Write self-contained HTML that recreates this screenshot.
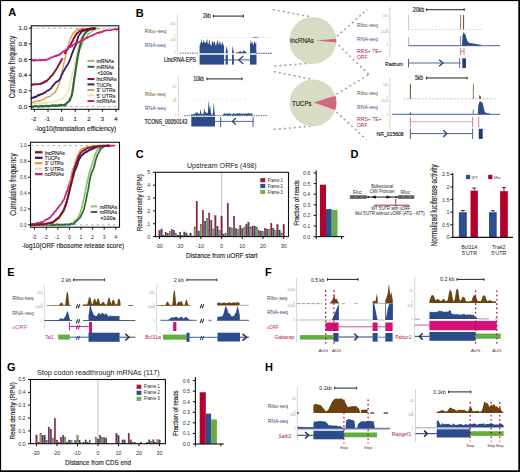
<!DOCTYPE html>
<html><head><meta charset="utf-8"><style>
html,body{margin:0;padding:0;background:#fff;}
body{width:520px;height:472px;overflow:hidden;}
svg{display:block;font-family:"Liberation Sans", sans-serif;}

</style></head><body>
<svg width="520" height="472" viewBox="0 0 520 472">
<defs><pattern id="hatch" width="1.2" height="1.2" patternUnits="userSpaceOnUse"><rect width="0.6" height="1.2" fill="#777"/></pattern></defs>
<rect x="0" y="0" width="520" height="472" fill="#fff"/>
<text x="8.30" y="16.08" font-size="11.0" font-weight="bold" fill="#000">A</text>
<line x1="31.20" y1="28.20" x2="118.80" y2="28.20" stroke="#aaa" stroke-width="0.9" stroke-dasharray="2.5,3"/>
<line x1="31.20" y1="106.50" x2="118.80" y2="106.50" stroke="#aaa" stroke-width="0.9" stroke-dasharray="2.5,3"/>
<polyline points="31.00,103.82 31.70,103.60 32.40,104.04 33.10,103.41 33.80,103.82 34.50,103.60 35.20,103.24 35.90,103.63 36.60,103.11 37.30,103.45 38.00,103.04 38.70,103.00 39.40,103.28 40.10,103.63 40.80,102.88 41.50,102.92 42.20,103.27 42.90,103.54 43.60,103.12 44.30,102.88 45.00,103.41 45.70,102.43 46.40,103.19 47.10,102.56 47.80,102.36 48.50,102.28 49.20,102.42 49.90,102.88 50.60,102.19 51.30,102.53 52.00,102.54 52.73,102.01 53.47,101.93 54.20,101.18 54.93,100.92 55.67,100.81 56.40,101.02 57.13,100.51 57.87,100.13 58.60,100.15 59.33,99.75 60.07,99.34 60.80,99.57 61.53,99.22 62.27,98.50 63.00,98.57 63.79,97.43 64.57,96.68 65.36,95.43 66.14,93.89 66.93,93.48 67.71,91.52 68.50,90.72 69.33,87.48 70.15,83.30 70.97,80.06 71.80,76.04 72.53,73.37 73.27,70.16 74.00,66.67 74.83,62.71 75.67,57.88 76.50,54.00 77.50,49.49 78.50,45.08 79.40,41.91 80.30,39.24 81.20,37.54 82.10,35.27 83.00,33.66 83.72,32.31 84.45,32.20 85.18,31.40 85.90,30.99 86.66,30.63 87.43,29.91 88.19,29.82 88.95,29.92 89.71,29.09 90.47,29.34 91.24,28.86 92.00,28.62 92.73,28.50 93.45,29.16 94.18,28.47 94.91,28.53 95.64,28.62 96.36,29.04 97.09,28.20 97.82,28.51 98.55,28.56 99.27,28.84 100.00,28.72" fill="none" stroke="#f2dcae" stroke-width="1.3" stroke-linejoin="round" />
<polyline points="31.00,106.66 31.71,106.05 32.42,106.17 33.13,106.09 33.84,106.59 34.56,106.64 35.27,105.80 35.98,105.81 36.69,105.84 37.40,105.81 38.11,106.04 38.82,106.12 39.53,105.77 40.24,105.49 40.96,105.88 41.67,105.80 42.38,105.98 43.09,106.34 43.80,106.05 44.51,105.85 45.22,105.93 45.93,105.96 46.64,105.32 47.36,106.14 48.07,105.99 48.78,106.06 49.49,105.96 50.20,105.53 50.91,105.51 51.62,105.19 52.33,105.70 53.04,105.10 53.76,105.09 54.47,105.20 55.18,105.13 55.89,105.28 56.60,104.97 57.31,104.90 58.02,105.02 58.73,104.95 59.44,105.19 60.16,104.82 60.87,105.65 61.58,105.36 62.29,104.87 63.00,104.95 63.79,104.59 64.57,104.15 65.36,103.45 66.14,103.72 66.93,103.41 67.71,102.42 68.50,101.98 69.25,99.84 70.00,98.10 70.75,96.59 71.50,94.76 72.40,89.83 73.30,83.66 74.25,76.52 75.20,70.45 76.20,64.03 77.20,57.65 78.25,54.04 79.30,49.53 80.20,48.03 81.10,46.48 82.00,44.36 82.75,42.82 83.50,41.01 84.25,39.74 85.00,38.17 85.70,37.87 86.40,36.73 87.10,36.08 87.80,34.73 88.50,33.72 89.20,33.71 89.90,33.28 90.60,32.55 91.30,31.91 92.00,31.32 92.80,30.84 93.60,29.93 94.40,29.82 95.20,29.26 96.00,28.53 96.80,28.41 97.60,28.54 98.40,28.40 99.20,28.71 100.00,28.86" fill="none" stroke="#8fc06a" stroke-width="1.4" stroke-linejoin="round" />
<polyline points="31.00,106.55 31.71,107.01 32.41,107.03 33.12,106.97 33.82,106.35 34.53,106.18 35.23,106.16 35.94,106.10 36.64,106.08 37.35,106.47 38.06,106.72 38.76,106.63 39.47,106.25 40.17,106.39 40.88,106.51 41.58,105.77 42.29,106.32 42.99,106.54 43.70,106.38 44.41,106.32 45.11,106.02 45.82,105.70 46.52,106.28 47.23,105.79 47.93,106.23 48.64,106.38 49.34,105.77 50.05,105.75 50.76,106.27 51.46,106.02 52.17,105.44 52.87,105.37 53.58,105.36 54.28,106.09 54.99,105.96 55.69,105.27 56.40,105.93 57.13,106.01 57.87,105.62 58.60,105.25 59.33,105.38 60.07,104.90 60.80,104.71 61.53,105.60 62.27,105.22 63.00,105.03 63.73,105.37 64.47,104.80 65.20,105.17 65.93,104.44 66.67,103.14 67.40,102.50 68.13,101.86 68.87,101.12 69.60,100.79 70.40,98.56 71.20,96.82 72.00,94.63 72.90,89.21 73.80,82.45 74.53,77.69 75.27,72.95 76.00,68.40 77.00,61.42 78.00,55.42 79.00,50.50 80.00,46.03 81.30,41.32 82.15,38.67 83.00,36.94 83.80,35.35 84.60,33.84 85.40,33.30 86.27,31.84 87.13,31.31 88.00,30.73 88.72,30.18 89.45,29.58 90.18,29.39 90.90,29.06 91.63,29.20 92.36,28.43 93.09,28.80 93.81,28.41 94.54,28.35 95.27,28.76 96.00,28.41" fill="none" stroke="#2c6a38" stroke-width="2.1" stroke-linejoin="round" />
<polyline points="31.00,102.46 31.71,102.50 32.43,102.50 33.14,101.87 33.86,101.88 34.57,101.62 35.29,101.47 36.00,101.49 36.71,101.10 37.43,101.02 38.14,100.81 38.86,101.11 39.57,100.71 40.29,100.73 41.00,100.64 41.73,99.63 42.47,99.61 43.20,99.67 43.93,99.24 44.67,98.21 45.40,97.87 46.13,97.87 46.87,97.17 47.60,97.02 48.33,96.52 49.07,96.79 49.80,96.58 50.59,96.07 51.37,94.70 52.16,94.63 52.94,93.95 53.73,92.80 54.51,92.91 55.30,92.37 56.12,89.97 56.95,89.05 57.77,86.85 58.60,85.29 59.33,83.22 60.07,80.50 60.80,77.26 61.53,74.23 62.27,71.02 63.00,67.54 63.85,63.55 64.70,59.82 66.00,54.42 66.83,50.65 67.67,48.12 68.50,44.94 69.40,41.68 70.30,39.16 71.20,36.62 72.13,35.01 73.07,33.06 74.00,32.49 74.80,31.79 75.60,31.47 76.40,30.10 77.20,29.77 78.00,29.04 78.70,29.67 79.40,29.05 80.10,28.80 80.80,28.98 81.50,29.36 82.20,29.16 82.90,28.49 83.60,28.27 84.30,28.93 85.00,28.47" fill="none" stroke="#e39a45" stroke-width="1.4" stroke-linejoin="round" />
<polyline points="31.00,98.90 31.71,97.97 32.42,97.62 33.13,97.93 33.84,97.35 34.55,96.68 35.25,97.23 35.96,96.61 36.67,96.46 37.38,95.42 38.09,95.87 38.80,94.77 39.59,95.25 40.37,94.53 41.16,94.10 41.94,94.00 42.73,94.06 43.51,93.08 44.30,92.63 45.09,92.56 45.87,91.80 46.66,91.20 47.44,90.78 48.23,90.19 49.01,89.87 49.80,89.51 50.59,88.56 51.37,88.07 52.16,86.66 52.94,85.93 53.73,84.66 54.51,83.89 55.30,82.62 56.03,82.30 56.77,81.52 57.50,81.68 58.23,80.95 58.97,80.04 59.70,79.77 60.53,78.31 61.35,75.56 62.17,74.34 63.00,72.03 63.83,70.72 64.65,69.68 65.47,67.87 66.30,66.61 67.20,65.25 68.10,64.02 69.00,61.84 69.72,60.38 70.45,58.31 71.18,56.29 71.90,54.10 72.68,52.21 73.46,50.07 74.24,48.31 75.02,46.41 75.80,45.24 76.55,42.26 77.30,39.66 78.05,37.08 78.80,35.34 79.60,34.50 80.40,33.42 81.20,32.16 82.00,31.24 82.75,31.04 83.50,30.96 84.25,30.41 85.00,30.45 85.75,30.01 86.50,30.46 87.25,30.22 88.00,29.55 88.70,29.15 89.40,29.79 90.10,29.04 90.80,29.00 91.50,28.55 92.20,28.84 92.90,28.84 93.60,28.78 94.30,28.39 95.00,28.60" fill="none" stroke="#3b1c5c" stroke-width="1.8" stroke-linejoin="round" />
<polyline points="31.00,84.60 31.71,84.76 32.43,84.49 33.14,84.70 33.86,84.24 34.57,84.12 35.29,84.30 36.00,84.13 36.71,84.39 37.43,84.23 38.14,84.35 38.86,84.16 39.57,84.12 40.29,84.18 41.00,83.59 41.79,83.14 42.57,83.41 43.36,82.19 44.14,82.38 44.93,81.91 45.71,80.93 46.50,81.34 47.29,80.59 48.07,79.53 48.86,78.83 49.64,78.11 50.43,76.64 51.21,76.22 52.00,75.40 52.73,74.63 53.47,73.50 54.20,72.43 54.93,71.08 55.67,70.29 56.40,68.98 57.23,67.77 58.05,66.08 58.88,64.66 59.70,63.53 61.00,60.86 61.85,59.10 62.70,58.34" fill="none" stroke="#8a0f2c" stroke-width="1.9" stroke-linejoin="round" />
<polyline points="64.50,54.06 65.80,51.63 66.57,50.54 67.33,49.51 68.10,48.24 68.87,46.67 69.63,46.38 70.40,45.25 71.27,43.34 72.13,41.70 73.00,40.16 73.93,37.90 74.87,36.90 75.80,34.75 76.60,33.70 77.40,33.02 78.20,32.60 79.00,31.21 79.80,31.40 80.60,31.30 81.40,30.47 82.20,30.02 83.00,29.78 83.70,29.88 84.40,29.87 85.10,29.62 85.80,29.54 86.50,28.88 87.20,28.85 87.90,28.85 88.60,29.24 89.30,28.70 90.00,28.87 90.75,28.27 91.50,28.29 92.25,28.46 93.00,28.82 93.75,28.80 94.50,28.75 95.25,28.33 96.00,28.52" fill="none" stroke="#8a0f2c" stroke-width="1.9" stroke-linejoin="round" />
<polyline points="31.00,60.26 31.70,60.25 32.40,59.89 33.10,60.65 33.80,59.94 34.50,60.70 35.20,60.65 35.90,59.71 36.60,60.14 37.30,60.48 38.00,60.62 38.70,60.08 39.40,59.89 40.10,59.81 40.80,60.54 41.50,59.79 42.20,60.14 42.90,59.69 43.60,60.05 44.30,60.47 45.00,59.63 45.70,60.07 46.40,59.52 47.10,59.65 47.80,59.22 48.50,58.50 49.20,58.92 49.90,58.27 50.60,57.56 51.30,57.29 52.00,57.54 52.70,57.25 53.47,56.79 54.24,56.32 55.01,56.21 55.78,55.88 56.55,56.09 57.32,54.94 58.09,55.38 58.86,55.16 59.63,54.13 60.40,54.63 61.50,52.91 62.22,52.63 62.94,51.56 63.67,51.17 64.39,50.73 65.11,50.87 65.83,49.99 66.56,49.29 67.28,48.89 68.00,48.28 68.75,47.55 69.50,47.10 70.25,47.33 71.00,46.29 71.75,46.44 72.50,45.25 73.25,44.77 74.00,44.51 74.74,43.80 75.49,43.60 76.23,43.79 76.98,43.33 77.72,42.87 78.47,42.30 79.21,42.19 79.96,41.83 80.70,41.05 81.46,40.84 82.21,39.79 82.97,40.10 83.72,39.44 84.48,39.36 85.23,38.88 85.99,38.14 86.74,37.53 87.50,38.03 88.27,36.86 89.03,36.84 89.80,36.34 90.57,35.93 91.33,36.01 92.10,35.88 92.87,34.79 93.63,34.82 94.40,34.10 95.17,34.08 95.93,33.64 96.70,33.13 97.47,32.85 98.23,32.62 99.00,33.04 99.77,32.35 100.53,31.80 101.30,32.21 102.07,32.13 102.83,31.42 103.60,30.94 104.37,30.83 105.13,30.56 105.90,30.64 106.67,30.22 107.43,30.21 108.20,30.06 108.96,30.27 109.71,30.49 110.47,30.25 111.22,29.81 111.98,29.71 112.73,29.72 113.49,29.48 114.24,29.34 115.00,28.96 115.70,29.12 116.40,29.75 117.10,28.85 117.80,29.16 118.50,29.23" fill="none" stroke="#cc1f78" stroke-width="1.7" stroke-linejoin="round" />
<rect x="31.2" y="25.8" width="87.6" height="83.5" fill="none" stroke="#111" stroke-width="1.1"/>
<line x1="28.70" y1="106.50" x2="31.20" y2="106.50" stroke="#111" stroke-width="1" />
<line x1="28.70" y1="90.84" x2="31.20" y2="90.84" stroke="#111" stroke-width="1" />
<line x1="28.70" y1="75.18" x2="31.20" y2="75.18" stroke="#111" stroke-width="1" />
<line x1="28.70" y1="59.52" x2="31.20" y2="59.52" stroke="#111" stroke-width="1" />
<line x1="28.70" y1="43.86" x2="31.20" y2="43.86" stroke="#111" stroke-width="1" />
<line x1="28.70" y1="28.20" x2="31.20" y2="28.20" stroke="#111" stroke-width="1" />
<line x1="34.40" y1="109.30" x2="34.40" y2="111.80" stroke="#111" stroke-width="1" />
<line x1="48.00" y1="109.30" x2="48.00" y2="111.80" stroke="#111" stroke-width="1" />
<line x1="61.60" y1="109.30" x2="61.60" y2="111.80" stroke="#111" stroke-width="1" />
<line x1="75.20" y1="109.30" x2="75.20" y2="111.80" stroke="#111" stroke-width="1" />
<line x1="88.80" y1="109.30" x2="88.80" y2="111.80" stroke="#111" stroke-width="1" />
<line x1="102.40" y1="109.30" x2="102.40" y2="111.80" stroke="#111" stroke-width="1" />
<line x1="116.00" y1="109.30" x2="116.00" y2="111.80" stroke="#111" stroke-width="1" />
<text x="27.20" y="108.66" font-size="6.0" fill="#333" text-anchor="end" font-weight="normal" textLength="8.60" lengthAdjust="spacingAndGlyphs" stroke="#333" stroke-width="0.15">0.0</text>
<text x="27.20" y="93.00" font-size="6.0" fill="#333" text-anchor="end" font-weight="normal" textLength="8.60" lengthAdjust="spacingAndGlyphs" stroke="#333" stroke-width="0.15">0.2</text>
<text x="27.20" y="77.34" font-size="6.0" fill="#333" text-anchor="end" font-weight="normal" textLength="8.60" lengthAdjust="spacingAndGlyphs" stroke="#333" stroke-width="0.15">0.4</text>
<text x="27.20" y="61.68" font-size="6.0" fill="#333" text-anchor="end" font-weight="normal" textLength="8.60" lengthAdjust="spacingAndGlyphs" stroke="#333" stroke-width="0.15">0.6</text>
<text x="27.20" y="46.02" font-size="6.0" fill="#333" text-anchor="end" font-weight="normal" textLength="8.60" lengthAdjust="spacingAndGlyphs" stroke="#333" stroke-width="0.15">0.8</text>
<text x="27.20" y="30.36" font-size="6.0" fill="#333" text-anchor="end" font-weight="normal" textLength="8.60" lengthAdjust="spacingAndGlyphs" stroke="#333" stroke-width="0.15">1.0</text>
<text x="33.60" y="121.16" font-size="6.0" fill="#333" text-anchor="middle" font-weight="normal" stroke="#333" stroke-width="0.15">-2</text>
<text x="47.20" y="121.16" font-size="6.0" fill="#333" text-anchor="middle" font-weight="normal" stroke="#333" stroke-width="0.15">-1</text>
<text x="61.60" y="121.16" font-size="6.0" fill="#333" text-anchor="middle" font-weight="normal" stroke="#333" stroke-width="0.15">0</text>
<text x="75.20" y="121.16" font-size="6.0" fill="#333" text-anchor="middle" font-weight="normal" stroke="#333" stroke-width="0.15">1</text>
<text x="88.80" y="121.16" font-size="6.0" fill="#333" text-anchor="middle" font-weight="normal" stroke="#333" stroke-width="0.15">2</text>
<text x="102.40" y="121.16" font-size="6.0" fill="#333" text-anchor="middle" font-weight="normal" stroke="#333" stroke-width="0.15">3</text>
<text x="116.00" y="121.16" font-size="6.0" fill="#333" text-anchor="middle" font-weight="normal" stroke="#333" stroke-width="0.15">4</text>
<text transform="translate(12.50,67.10) rotate(-90)" x="0" y="2.95" font-size="8.2" fill="#333" text-anchor="middle" font-weight="normal" textLength="62.50" lengthAdjust="spacingAndGlyphs" stroke="#333" stroke-width="0.15">Cumulative frequency</text>
<text x="34.80" y="131.14" font-size="7.9" fill="#222" text-anchor="start" font-weight="normal" textLength="81.50" lengthAdjust="spacingAndGlyphs" stroke="#222" stroke-width="0.15">-log10(translation efficiency)</text>
<line x1="87.50" y1="60.90" x2="94.40" y2="60.90" stroke="#8fc06a" stroke-width="2.0" />
<text x="96.60" y="63.10" font-size="6.1" fill="#222" text-anchor="start" font-weight="normal" textLength="17.50" lengthAdjust="spacingAndGlyphs" stroke="#222" stroke-width="0.15">mRNAs</text>
<line x1="87.50" y1="66.80" x2="94.40" y2="66.80" stroke="#2c6a38" stroke-width="2.0" />
<text x="96.60" y="69.00" font-size="6.1" fill="#222" text-anchor="start" font-weight="normal" textLength="17.50" lengthAdjust="spacingAndGlyphs" stroke="#222" stroke-width="0.15">mRNAs</text>
<text x="97.20" y="75.00" font-size="6.1" fill="#222" text-anchor="start" font-weight="normal" textLength="15.00" lengthAdjust="spacingAndGlyphs" stroke="#222" stroke-width="0.15">&lt;100a</text>
<line x1="87.50" y1="79.00" x2="94.40" y2="79.00" stroke="#8a0f2c" stroke-width="2.0" />
<text x="96.60" y="81.20" font-size="6.1" fill="#222" text-anchor="start" font-weight="normal" textLength="20.00" lengthAdjust="spacingAndGlyphs" stroke="#222" stroke-width="0.15">lncRNAs</text>
<line x1="87.50" y1="84.40" x2="94.40" y2="84.40" stroke="#3b1c5c" stroke-width="2.0" />
<text x="96.60" y="86.60" font-size="6.1" fill="#222" text-anchor="start" font-weight="normal" textLength="15.00" lengthAdjust="spacingAndGlyphs" stroke="#222" stroke-width="0.15">TUCPs</text>
<line x1="87.50" y1="90.00" x2="94.40" y2="90.00" stroke="#e39a45" stroke-width="2.0" />
<text x="96.60" y="92.20" font-size="6.1" fill="#222" text-anchor="start" font-weight="normal" textLength="18.70" lengthAdjust="spacingAndGlyphs" stroke="#222" stroke-width="0.15">3' UTRs</text>
<line x1="87.50" y1="95.40" x2="94.40" y2="95.40" stroke="#f2dcae" stroke-width="2.0" />
<text x="96.60" y="97.60" font-size="6.1" fill="#222" text-anchor="start" font-weight="normal" textLength="18.70" lengthAdjust="spacingAndGlyphs" stroke="#222" stroke-width="0.15">5' UTRs</text>
<line x1="87.50" y1="101.00" x2="94.40" y2="101.00" stroke="#cc1f78" stroke-width="2.0" />
<text x="96.60" y="103.20" font-size="6.1" fill="#222" text-anchor="start" font-weight="normal" textLength="19.00" lengthAdjust="spacingAndGlyphs" stroke="#222" stroke-width="0.15">ncRNAs</text>
<line x1="30.50" y1="145.60" x2="119.50" y2="145.60" stroke="#aaa" stroke-width="0.9" stroke-dasharray="2.5,3"/>
<line x1="30.50" y1="224.80" x2="119.50" y2="224.80" stroke="#aaa" stroke-width="0.9" stroke-dasharray="2.5,3"/>
<polyline points="31.00,225.15 31.71,224.69 32.42,224.73 33.12,224.71 33.83,224.80 34.54,224.83 35.25,225.18 35.96,225.10 36.67,225.11 37.38,224.51 38.08,224.51 38.79,224.98 39.50,225.10 40.21,224.80 40.92,224.87 41.62,224.46 42.33,224.72 43.04,225.09 43.75,225.02 44.46,225.03 45.17,225.11 45.88,224.59 46.58,224.49 47.29,224.51 48.00,224.77 48.71,224.87 49.42,225.05 50.12,224.89 50.83,224.83 51.54,224.90 52.25,224.68 52.96,224.74 53.67,224.38 54.38,224.89 55.08,224.50 55.79,224.98 56.50,224.78 57.21,224.53 57.92,224.40 58.62,224.48 59.33,224.75 60.04,224.78 60.75,224.37 61.46,224.33 62.17,224.64 62.88,224.68 63.58,224.53 64.29,224.41 65.00,224.67 65.79,224.16 66.58,224.26 67.36,224.27 68.15,224.52 68.94,224.20 69.72,224.27 70.51,223.88 71.30,223.61 72.08,223.00 72.85,222.87 73.62,222.07 74.40,221.17 75.17,220.34 75.95,220.05 76.72,219.55 77.50,218.74 78.26,216.87 79.02,215.40 79.78,213.82 80.54,211.57 81.30,209.67 82.13,206.15 82.97,202.48 83.80,198.93 84.63,194.42 85.47,190.67 86.30,186.47 87.00,183.15 87.70,179.79 88.60,176.33 89.50,171.87 90.30,170.22 91.10,167.81 92.05,164.31 93.00,161.18 93.80,158.26 94.60,156.12 95.55,153.65 96.50,151.28 97.25,150.06 98.00,148.94 98.70,148.58 99.40,148.23 100.10,147.13 100.80,146.77 101.50,146.10 102.25,146.52 103.00,145.82 103.75,145.64 104.50,145.53 105.25,145.64 106.00,145.88" fill="none" stroke="#8fc06a" stroke-width="1.7" stroke-linejoin="round" />
<polyline points="31.00,225.27 31.71,225.16 32.41,225.34 33.12,225.28 33.82,224.86 34.53,224.75 35.24,225.27 35.94,225.13 36.65,224.63 37.35,225.06 38.06,224.86 38.76,224.85 39.47,224.81 40.18,224.69 40.88,224.57 41.59,224.76 42.29,224.80 43.00,225.22 43.71,224.63 44.41,225.21 45.12,224.68 45.82,224.78 46.53,225.10 47.24,225.09 47.94,224.81 48.65,224.54 49.35,224.83 50.06,224.75 50.76,225.13 51.47,224.61 52.18,224.73 52.88,225.10 53.59,224.48 54.29,224.74 55.00,225.02 55.71,224.98 56.41,224.47 57.12,224.46 57.82,224.47 58.53,225.06 59.24,224.59 59.94,224.93 60.65,225.03 61.35,224.63 62.06,224.58 62.76,225.06 63.47,224.81 64.18,224.56 64.88,224.87 65.59,224.58 66.29,224.55 67.00,224.35 67.76,224.78 68.51,224.79 69.27,224.49 70.02,224.61 70.78,223.87 71.53,223.91 72.29,223.98 73.04,224.22 73.80,224.12 74.58,222.93 75.35,222.05 76.12,221.39 76.90,220.65 77.67,220.16 78.45,218.85 79.22,218.50 80.00,217.67 80.76,216.23 81.52,214.69 82.28,213.08 83.04,211.38 83.80,209.87 84.63,206.17 85.47,202.73 86.30,198.51 87.13,194.42 87.97,190.64 88.80,186.12 89.80,179.70 90.65,176.17 91.50,173.04 92.23,171.21 92.97,170.00 93.70,168.27 94.60,164.84 95.50,160.84 96.35,158.11 97.20,155.52 98.10,153.90 99.00,152.15 99.85,150.46 100.70,148.81 101.55,148.27 102.40,147.73 103.25,147.10 104.10,146.47 104.84,146.46 105.57,146.24 106.31,145.77 107.05,146.19 107.79,145.72 108.53,145.82 109.26,145.60 110.00,145.77" fill="none" stroke="#2c6a38" stroke-width="1.7" stroke-linejoin="round" />
<polyline points="31.00,224.39 31.72,224.25 32.44,224.08 33.16,223.85 33.88,224.19 34.59,223.81 35.31,223.47 36.03,223.35 36.75,223.59 37.47,223.09 38.19,222.72 38.91,222.96 39.62,222.68 40.34,222.75 41.06,221.96 41.78,222.05 42.50,222.12 43.25,221.70 44.00,221.31 44.75,220.26 45.50,220.00 46.25,219.43 47.00,219.04 47.75,219.15 48.50,218.44 49.25,218.24 50.00,217.41 50.75,216.89 51.50,215.72 52.25,214.72 53.00,214.21 53.75,213.46 54.50,212.00 55.25,211.48 56.00,210.62 56.75,209.47 57.50,208.71 58.29,207.45 59.08,206.39 59.86,205.33 60.65,204.47 61.44,203.41 62.22,201.99 63.01,200.76 63.80,199.88 64.54,198.12 65.28,195.78 66.02,193.87 66.76,191.79 67.50,190.21 68.28,187.53 69.05,184.69 69.82,182.22 70.60,179.93 71.55,176.04 72.50,172.10 73.33,169.38 74.17,167.10 75.00,165.14 75.75,163.44 76.50,161.85 77.25,160.37 78.00,159.32 78.70,158.07 79.40,157.45 80.10,156.50 80.80,155.74 81.50,155.25 82.25,154.76 83.00,153.74 83.75,153.04 84.50,152.83 85.25,151.88 86.00,151.15 86.75,151.41 87.50,150.70 88.25,150.60 89.00,149.93 89.75,149.89 90.50,149.22 91.25,148.64 92.00,148.16 92.75,148.30 93.50,148.12 94.25,148.07 95.00,147.26 95.75,147.40 96.50,146.98 97.25,146.84 98.00,146.35 98.70,146.37 99.40,146.45 100.10,146.66 100.80,146.01 101.50,146.19 102.20,146.33 102.90,146.37 103.60,145.75 104.30,145.62 105.00,146.11 105.71,146.11 106.43,145.75 107.14,145.42 107.86,146.01 108.57,145.61 109.29,145.95 110.00,145.73 110.71,145.86 111.43,145.37 112.14,145.79 112.86,145.37 113.57,145.48 114.29,145.76 115.00,145.73" fill="none" stroke="#cc1f78" stroke-width="1.7" stroke-linejoin="round" />
<polyline points="31.60,224.58 32.30,224.58 33.00,224.69 33.70,224.75 34.40,224.64 35.10,224.44 35.80,224.50 36.50,224.82 37.20,224.92 37.90,224.30 38.60,224.64 39.30,224.76 40.00,224.24 40.70,224.78 41.40,224.25 42.10,224.57 42.80,224.52 43.50,224.55 44.20,224.30 44.90,224.36 45.60,224.46 46.33,224.20 47.05,224.22 47.78,223.93 48.51,223.78 49.24,223.34 49.96,223.61 50.69,223.37 51.42,223.05 52.15,223.28 52.87,223.14 53.60,222.77 54.35,221.98 55.10,221.58 55.85,220.72 56.60,220.14 57.35,219.75 58.10,218.91 58.85,218.56 59.60,218.01 60.31,216.61 61.03,215.95 61.74,214.49 62.46,213.88 63.17,212.84 63.89,211.58 64.60,210.19 65.42,207.75 66.25,204.91 67.07,202.57 67.90,199.25 68.63,195.92 69.37,192.18 70.10,188.16 71.20,180.22 71.90,175.79 72.60,172.34 73.50,169.99 74.40,168.32 75.25,165.29 76.10,161.77 77.00,159.55 77.90,157.00 78.60,155.02 79.30,153.84 80.00,152.74 80.70,150.94 81.40,150.08 82.14,149.27 82.89,149.28 83.63,148.44 84.37,148.32 85.11,148.24 85.86,147.37 86.60,147.03 87.32,147.10 88.03,146.86 88.75,146.55 89.47,146.54 90.18,146.42 90.90,146.86 91.62,146.57 92.33,146.61 93.05,145.99 93.77,146.32 94.48,145.74 95.20,145.92 95.94,145.97 96.69,145.76 97.43,146.10 98.17,145.85 98.91,145.85 99.66,146.04 100.40,145.47 101.14,146.07 101.89,145.80 102.63,145.61 103.37,145.87 104.11,145.48 104.86,145.96 105.60,145.65" fill="none" stroke="#f2dcae" stroke-width="1.7" stroke-linejoin="round" />
<polyline points="31.00,224.70 31.70,224.97 32.40,224.72 33.10,224.51 33.80,224.89 34.50,224.38 35.20,224.90 35.90,224.49 36.60,224.74 37.30,224.96 38.00,224.66 38.70,224.69 39.40,224.43 40.10,224.19 40.80,224.19 41.50,224.25 42.20,224.56 42.90,224.41 43.60,224.45 44.30,224.70 45.00,224.14 45.73,224.06 46.45,224.22 47.18,223.63 47.91,223.47 48.64,223.57 49.36,223.25 50.09,223.28 50.82,223.04 51.55,223.15 52.27,223.01 53.00,222.59 53.75,222.29 54.50,221.58 55.25,220.74 56.00,220.71 56.75,219.62 57.50,218.95 58.25,218.32 59.00,218.10 59.71,217.19 60.43,216.05 61.14,214.72 61.86,213.55 62.57,212.30 63.29,211.67 64.00,210.54 64.83,207.65 65.65,205.10 66.47,202.21 67.30,199.81 68.03,195.83 68.77,191.66 69.50,188.28 70.60,179.68 71.30,176.02 72.00,171.93 72.90,169.82 73.80,167.69 74.65,165.20 75.50,161.66 76.40,159.39 77.30,157.01 78.00,155.07 78.70,153.73 79.40,152.64 80.10,151.18 80.80,149.90 81.54,149.65 82.29,148.83 83.03,148.55 83.77,148.17 84.51,147.63 85.26,147.84 86.00,147.40 86.72,147.24 87.43,146.64 88.15,147.12 88.87,146.94 89.58,146.63 90.30,146.72 91.02,146.41 91.73,146.14 92.45,145.95 93.17,145.93 93.88,145.69 94.60,145.78 95.34,146.05 96.09,145.99 96.83,146.08 97.57,145.96 98.31,145.63 99.06,145.81 99.80,145.71 100.54,145.93 101.29,145.72 102.03,145.52 102.77,145.76 103.51,145.97 104.26,145.42 105.00,145.87" fill="none" stroke="#e39a45" stroke-width="1.7" stroke-linejoin="round" />
<polyline points="31.00,224.36 31.72,224.50 32.44,224.46 33.17,224.79 33.89,224.90 34.61,224.73 35.33,224.41 36.06,224.77 36.78,224.36 37.50,224.27 38.22,224.71 38.94,224.49 39.67,224.50 40.39,224.45 41.11,224.65 41.83,224.26 42.56,224.49 43.28,224.37 44.00,224.45 44.75,224.01 45.50,224.06 46.25,223.80 47.00,223.47 47.75,223.25 48.50,223.39 49.25,222.85 50.00,223.29 50.75,222.60 51.50,222.37 52.25,222.27 53.00,222.70 53.77,221.62 54.55,220.80 55.33,220.05 56.10,219.38 56.88,219.16 57.65,218.44 58.43,217.81 59.20,217.17 59.93,215.55 60.66,214.78 61.39,213.48 62.11,212.65 62.84,211.51 63.57,210.42 64.30,208.70 65.04,207.06 65.78,204.89 66.52,202.71 67.26,199.92 68.00,197.79 68.83,194.06 69.67,190.34 70.50,187.24 71.40,183.72 72.30,180.09 73.03,177.56 73.77,174.76 74.50,171.85 75.45,169.72 76.40,167.72 77.45,164.68 78.50,160.79 79.27,159.44 80.03,158.08 80.80,156.36 81.65,155.65 82.50,154.80 83.35,154.23 84.20,153.11 84.96,152.65 85.72,152.67 86.49,151.93 87.25,151.75 88.01,151.16 88.78,150.32 89.54,150.16 90.30,149.76 91.07,149.66 91.83,149.03 92.60,148.94 93.37,148.49 94.13,147.93 94.90,148.05 95.67,147.18 96.43,147.36 97.20,146.57 97.92,146.30 98.63,146.29 99.35,146.53 100.07,146.53 100.78,145.70 101.50,145.89 102.21,145.87 102.92,146.06 103.62,145.60 104.33,145.80 105.04,145.67 105.75,145.98 106.46,145.56 107.17,146.01 107.88,145.52 108.58,145.45 109.29,145.76 110.00,145.60" fill="none" stroke="#3b1c5c" stroke-width="1.7" stroke-linejoin="round" />
<polyline points="31.00,224.33 31.72,224.68 32.44,224.27 33.16,224.75 33.88,224.66 34.59,224.71 35.31,224.58 36.03,224.37 36.75,224.38 37.47,224.36 38.19,224.69 38.91,224.10 39.62,224.65 40.34,224.02 41.06,224.13 41.78,224.15 42.50,224.58 43.21,224.17 43.93,223.96 44.64,224.18 45.36,223.60 46.07,223.63 46.79,223.55 47.50,223.58 48.21,223.45 48.93,223.25 49.64,222.91 50.36,222.76 51.07,222.52 51.79,222.87 52.50,222.61 53.29,222.04 54.08,221.02 54.86,220.58 55.65,220.19 56.44,219.43 57.22,218.49 58.01,218.10 58.80,217.77 59.51,216.25 60.23,215.14 60.94,214.15 61.66,213.36 62.37,212.38 63.09,210.83 63.80,209.76 64.54,207.58 65.28,205.40 66.02,203.30 66.76,200.80 67.50,198.68 68.33,194.82 69.17,191.60 70.00,187.66 70.95,183.47 71.90,180.32 73.00,173.72 73.75,170.92 74.50,168.34 75.55,165.21 76.60,162.16 77.55,159.45 78.50,156.79 79.27,155.76 80.03,154.06 80.80,152.79 81.60,152.17 82.40,151.17 83.20,150.68 84.00,150.20 84.80,149.74 85.60,149.20 86.40,148.89 87.20,148.37 88.00,147.75 88.75,147.90 89.50,147.58 90.25,147.64 91.00,147.59 91.75,147.08 92.50,147.00 93.25,146.95 94.00,146.54 94.75,146.33 95.50,146.61 96.25,146.64 97.00,146.49 97.75,146.37 98.50,146.40 99.25,146.20 100.00,146.10 100.71,145.94 101.43,145.81 102.14,146.00 102.86,145.60 103.57,145.80 104.29,146.03 105.00,145.95 105.71,145.86 106.43,145.57 107.14,145.66 107.86,145.65 108.57,145.74 109.29,145.57 110.00,145.72" fill="none" stroke="#8a0f2c" stroke-width="1.7" stroke-linejoin="round" />
<rect x="30.5" y="142.3" width="89.0" height="84.89999999999998" fill="none" stroke="#111" stroke-width="1.1"/>
<line x1="28.00" y1="224.80" x2="30.50" y2="224.80" stroke="#111" stroke-width="1" />
<line x1="28.00" y1="208.96" x2="30.50" y2="208.96" stroke="#111" stroke-width="1" />
<line x1="28.00" y1="193.12" x2="30.50" y2="193.12" stroke="#111" stroke-width="1" />
<line x1="28.00" y1="177.28" x2="30.50" y2="177.28" stroke="#111" stroke-width="1" />
<line x1="28.00" y1="161.44" x2="30.50" y2="161.44" stroke="#111" stroke-width="1" />
<line x1="28.00" y1="145.60" x2="30.50" y2="145.60" stroke="#111" stroke-width="1" />
<line x1="34.60" y1="227.20" x2="34.60" y2="229.70" stroke="#111" stroke-width="1" />
<line x1="46.20" y1="227.20" x2="46.20" y2="229.70" stroke="#111" stroke-width="1" />
<line x1="57.80" y1="227.20" x2="57.80" y2="229.70" stroke="#111" stroke-width="1" />
<line x1="69.40" y1="227.20" x2="69.40" y2="229.70" stroke="#111" stroke-width="1" />
<line x1="81.00" y1="227.20" x2="81.00" y2="229.70" stroke="#111" stroke-width="1" />
<line x1="92.60" y1="227.20" x2="92.60" y2="229.70" stroke="#111" stroke-width="1" />
<line x1="104.20" y1="227.20" x2="104.20" y2="229.70" stroke="#111" stroke-width="1" />
<line x1="115.80" y1="227.20" x2="115.80" y2="229.70" stroke="#111" stroke-width="1" />
<text x="26.60" y="226.60" font-size="5.0" fill="#333" text-anchor="end" font-weight="normal" textLength="6.60" lengthAdjust="spacingAndGlyphs">0.0</text>
<text x="26.60" y="210.76" font-size="5.0" fill="#333" text-anchor="end" font-weight="normal" textLength="6.60" lengthAdjust="spacingAndGlyphs">0.2</text>
<text x="26.60" y="194.92" font-size="5.0" fill="#333" text-anchor="end" font-weight="normal" textLength="6.60" lengthAdjust="spacingAndGlyphs">0.4</text>
<text x="26.60" y="179.08" font-size="5.0" fill="#333" text-anchor="end" font-weight="normal" textLength="6.60" lengthAdjust="spacingAndGlyphs">0.6</text>
<text x="26.60" y="163.24" font-size="5.0" fill="#333" text-anchor="end" font-weight="normal" textLength="6.60" lengthAdjust="spacingAndGlyphs">0.8</text>
<text x="26.60" y="147.40" font-size="5.0" fill="#333" text-anchor="end" font-weight="normal" textLength="6.60" lengthAdjust="spacingAndGlyphs">1.0</text>
<text x="33.90" y="238.74" font-size="5.4" fill="#333" text-anchor="middle" font-weight="normal">-3</text>
<text x="45.50" y="238.74" font-size="5.4" fill="#333" text-anchor="middle" font-weight="normal">-2</text>
<text x="57.10" y="238.74" font-size="5.4" fill="#333" text-anchor="middle" font-weight="normal">-1</text>
<text x="69.40" y="238.74" font-size="5.4" fill="#333" text-anchor="middle" font-weight="normal">0</text>
<text x="81.00" y="238.74" font-size="5.4" fill="#333" text-anchor="middle" font-weight="normal">1</text>
<text x="92.60" y="238.74" font-size="5.4" fill="#333" text-anchor="middle" font-weight="normal">2</text>
<text x="104.20" y="238.74" font-size="5.4" fill="#333" text-anchor="middle" font-weight="normal">3</text>
<text x="115.80" y="238.74" font-size="5.4" fill="#333" text-anchor="middle" font-weight="normal">4</text>
<text transform="translate(12.60,184.50) rotate(-90)" x="0" y="2.95" font-size="8.2" fill="#333" text-anchor="middle" font-weight="normal" textLength="62.50" lengthAdjust="spacingAndGlyphs" stroke="#333" stroke-width="0.15">Cumulative frequency</text>
<text x="22.00" y="248.44" font-size="7.9" fill="#222" text-anchor="start" font-weight="normal" textLength="102.00" lengthAdjust="spacingAndGlyphs" stroke="#222" stroke-width="0.15">-log10(ORF ribosome release score)</text>
<line x1="35.00" y1="152.30" x2="42.50" y2="152.30" stroke="#8a0f2c" stroke-width="2.3" />
<text x="44.80" y="154.53" font-size="6.2" fill="#222" text-anchor="start" font-weight="normal" textLength="20.00" lengthAdjust="spacingAndGlyphs" stroke="#222" stroke-width="0.15">lncRNAs</text>
<line x1="35.00" y1="157.80" x2="42.50" y2="157.80" stroke="#3b1c5c" stroke-width="2.3" />
<text x="44.80" y="160.03" font-size="6.2" fill="#222" text-anchor="start" font-weight="normal" textLength="15.00" lengthAdjust="spacingAndGlyphs" stroke="#222" stroke-width="0.15">TUCPs</text>
<line x1="35.00" y1="163.20" x2="42.50" y2="163.20" stroke="#e39a45" stroke-width="2.3" />
<text x="44.80" y="165.43" font-size="6.2" fill="#222" text-anchor="start" font-weight="normal" textLength="18.70" lengthAdjust="spacingAndGlyphs" stroke="#222" stroke-width="0.15">3' UTRs</text>
<line x1="35.00" y1="168.60" x2="42.50" y2="168.60" stroke="#f2dcae" stroke-width="2.3" />
<text x="44.80" y="170.83" font-size="6.2" fill="#222" text-anchor="start" font-weight="normal" textLength="18.70" lengthAdjust="spacingAndGlyphs" stroke="#222" stroke-width="0.15">5' UTRs</text>
<line x1="35.00" y1="174.10" x2="42.50" y2="174.10" stroke="#cc1f78" stroke-width="2.3" />
<text x="44.80" y="176.33" font-size="6.2" fill="#222" text-anchor="start" font-weight="normal" textLength="19.00" lengthAdjust="spacingAndGlyphs" stroke="#222" stroke-width="0.15">ncRNAs</text>
<line x1="90.80" y1="206.40" x2="97.20" y2="206.40" stroke="#8fc06a" stroke-width="2.0" />
<text x="99.80" y="208.63" font-size="6.2" fill="#222" text-anchor="start" font-weight="normal" textLength="17.50" lengthAdjust="spacingAndGlyphs" stroke="#222" stroke-width="0.15">mRNAs</text>
<line x1="90.80" y1="212.00" x2="97.20" y2="212.00" stroke="#2c6a38" stroke-width="2.0" />
<text x="99.80" y="214.23" font-size="6.2" fill="#222" text-anchor="start" font-weight="normal" textLength="17.50" lengthAdjust="spacingAndGlyphs" stroke="#222" stroke-width="0.15">mRNAs</text>
<text x="100.50" y="220.43" font-size="6.2" fill="#222" text-anchor="start" font-weight="normal" textLength="15.00" lengthAdjust="spacingAndGlyphs" stroke="#222" stroke-width="0.15">&lt;100a</text>
<text x="135.80" y="16.88" font-size="11.0" font-weight="bold" fill="#000">B</text>
<text x="203.00" y="18.40" font-size="6.4" fill="#222" text-anchor="start" font-weight="normal" textLength="7.80" lengthAdjust="spacingAndGlyphs" stroke="#222" stroke-width="0.15">2kb</text>
<line x1="213.40" y1="16.10" x2="243.40" y2="16.10" stroke="#222" stroke-width="1.0" />
<line x1="213.40" y1="14.80" x2="213.40" y2="17.40" stroke="#222" stroke-width="1.0" />
<line x1="243.40" y1="14.80" x2="243.40" y2="17.40" stroke="#222" stroke-width="1.0" />
<line x1="177.40" y1="14.80" x2="177.40" y2="55.00" stroke="#d8d0bf" stroke-width="0.9" />
<text x="175.60" y="25.22" font-size="3.4" fill="#c4a47c" text-anchor="end" font-weight="normal">100</text>
<text x="175.60" y="37.22" font-size="3.4" fill="#c4a47c" text-anchor="end" font-weight="normal">1</text>
<text x="175.60" y="40.72" font-size="3.4" fill="#c4a47c" text-anchor="end" font-weight="normal">100</text>
<text x="175.60" y="53.22" font-size="3.4" fill="#c4a47c" text-anchor="end" font-weight="normal">1</text>
<text x="144.80" y="33.22" font-size="5.6" fill="#6e5230" text-anchor="start" font-weight="normal" textLength="21.50" lengthAdjust="spacingAndGlyphs">Ribo-seq</text>
<text x="144.80" y="46.52" font-size="5.6" fill="#34528a" text-anchor="start" font-weight="normal" textLength="20.80" lengthAdjust="spacingAndGlyphs">RNA-seq</text>
<line x1="203.00" y1="37.40" x2="271.50" y2="37.40" stroke="#dccabf" stroke-width="0.8" stroke-dasharray="1.5,2.2"/>
<line x1="253.00" y1="37.40" x2="258.00" y2="37.40" stroke="#8a7a70" stroke-width="0.9" />
<line x1="180.00" y1="53.20" x2="199.00" y2="53.20" stroke="#33416b" stroke-width="0.9" stroke-dasharray="1.2,1.2"/>
<line x1="256.00" y1="53.20" x2="272.00" y2="53.20" stroke="#33416b" stroke-width="0.9" stroke-dasharray="1.6,0.8"/>
<path d="M199.60,53.20 L199.60,43.96 L199.95,45.91 L200.30,44.09 L200.65,42.59 L201.00,41.98 L201.35,40.37 L201.70,39.07 L202.05,42.89 L202.40,42.46 L202.75,43.35 L203.10,40.72 L203.45,39.85 L203.80,41.53 L204.15,43.39 L204.50,42.13 L204.85,41.96 L205.20,41.70 L205.55,43.10 L205.90,43.30 L206.25,41.99 L206.60,40.70 L206.95,39.47 L207.30,38.93 L207.65,43.39 L208.00,43.65 L208.35,44.55 L208.70,42.39 L209.05,42.48 L209.40,38.91 L209.75,41.02 L210.10,43.41 L210.45,44.40 L210.80,45.00 L211.15,46.37 L211.50,44.96 L211.85,43.80 L212.20,41.01 L212.55,40.64 L212.90,41.66 L213.25,43.65 L213.60,43.06 L213.95,41.65 L214.30,41.42 L214.65,42.16 L215.00,41.93 L215.35,44.56 L215.70,45.77 L216.05,46.13 L216.40,43.98 L216.75,42.71 L217.10,41.19 L217.45,40.31 L217.80,40.85 L218.15,43.82 L218.50,43.18 L218.85,45.20 L219.20,43.68 L219.55,41.64 L219.90,40.39 L220.25,41.76 L220.60,43.83 L220.95,44.38 L221.30,45.94 L221.65,43.54 L222.00,43.79 L222.35,41.35 L222.70,43.08 L223.05,43.91 L223.40,45.30 L223.75,45.28 L224.10,46.06 L224.10,53.20 Z" fill="#2c4b8b" />
<path d="M225.60,53.20 L225.60,52.22 L225.90,50.42 L226.20,48.63 L226.50,46.60 L226.80,46.19 L227.10,47.70 L227.40,50.02 L227.70,51.41 L227.70,53.20 Z" fill="#2c4b8b" />
<path d="M232.00,53.20 L232.00,51.46 L232.30,49.76 L232.60,46.76 L232.90,46.30 L233.20,49.12 L233.50,50.84 L233.80,51.81 L233.80,53.20 Z" fill="#2c4b8b" />
<path d="M236.00,53.20 L236.00,52.12 L236.40,52.76 L236.80,52.07 L237.20,52.26 L237.60,52.87 L238.00,52.82 L238.40,51.75 L238.80,51.76 L239.20,51.74 L239.60,51.47 L240.00,51.26 L240.40,51.34 L240.80,51.21 L241.20,52.06 L241.60,52.52 L242.00,51.85 L242.40,51.85 L242.80,52.14 L243.20,50.92 L243.60,50.70 L244.00,50.32 L244.40,50.64 L244.80,50.91 L245.20,51.53 L245.60,51.82 L246.00,52.62 L246.40,52.19 L246.80,52.37 L246.80,53.20 Z" fill="#2c4b8b" />
<path d="M250.00,53.20 L250.00,44.44 L250.35,43.70 L250.70,40.60 L251.05,40.53 L251.40,42.28 L251.75,43.42 L252.10,43.22 L252.45,41.66 L252.80,43.40 L253.15,43.96 L253.50,45.47 L253.85,43.90 L254.20,42.35 L254.55,41.58 L254.90,41.66 L255.25,44.61 L255.60,42.35 L255.95,42.73 L256.30,43.04 L256.30,53.20 Z" fill="#2c4b8b" />
<rect x="199.60" y="54.70" width="24.50" height="9.90" fill="#2c4b8b" />
<rect x="225.60" y="54.70" width="2.20" height="9.90" fill="#2c4b8b" />
<rect x="232.00" y="54.70" width="1.80" height="9.90" fill="#2c4b8b" />
<rect x="250.00" y="54.70" width="6.50" height="9.90" fill="#2c4b8b" />
<line x1="224.10" y1="59.90" x2="250.00" y2="59.90" stroke="#2c4b8b" stroke-width="0.9" />
<polyline points="243.30,55.90 238.80,59.90 243.30,63.90" fill="none" stroke="#2c4b8b" stroke-width="1.4"/>
<text x="164.00" y="62.27" font-size="6.3" fill="#111" text-anchor="start" font-weight="normal" textLength="32.00" lengthAdjust="spacingAndGlyphs" stroke="#111" stroke-width="0.15">LincRNA-EPS</text>
<text x="193.60" y="81.28" font-size="6.6" fill="#222" text-anchor="start" font-weight="normal" textLength="10.40" lengthAdjust="spacingAndGlyphs" stroke="#222" stroke-width="0.15">10kb</text>
<line x1="207.00" y1="78.90" x2="242.00" y2="78.90" stroke="#222" stroke-width="1.0" />
<line x1="207.00" y1="77.60" x2="207.00" y2="80.20" stroke="#222" stroke-width="1.0" />
<line x1="242.00" y1="77.60" x2="242.00" y2="80.20" stroke="#222" stroke-width="1.0" />
<line x1="178.40" y1="77.00" x2="178.40" y2="117.50" stroke="#d8d0bf" stroke-width="0.9" />
<text x="176.40" y="87.52" font-size="3.4" fill="#c4a47c" text-anchor="end" font-weight="normal">40</text>
<text x="176.40" y="99.62" font-size="3.4" fill="#c4a47c" text-anchor="end" font-weight="normal">1</text>
<text x="176.40" y="102.42" font-size="3.4" fill="#c4a47c" text-anchor="end" font-weight="normal">40</text>
<text x="176.40" y="116.22" font-size="3.4" fill="#c4a47c" text-anchor="end" font-weight="normal">1</text>
<text x="145.10" y="96.22" font-size="5.6" fill="#6e5230" text-anchor="start" font-weight="normal" textLength="20.60" lengthAdjust="spacingAndGlyphs">Ribo-seq</text>
<text x="145.10" y="110.42" font-size="5.6" fill="#34528a" text-anchor="start" font-weight="normal" textLength="20.90" lengthAdjust="spacingAndGlyphs">RNA-seq</text>
<line x1="195.00" y1="99.40" x2="252.00" y2="99.40" stroke="#e6d8d0" stroke-width="0.8" stroke-dasharray="1.5,3"/>
<line x1="184.00" y1="115.60" x2="268.00" y2="115.60" stroke="#33416b" stroke-width="0.8" stroke-dasharray="1.4,1.0"/>
<path d="M191.10,115.60 L191.10,114.04 L191.40,113.76 L191.70,114.50 L192.00,114.43 L192.30,113.56 L192.60,114.98 L192.90,114.08 L193.20,114.08 L193.50,115.05 L193.80,114.11 L194.10,113.98 L194.40,113.54 L194.70,114.43 L195.00,113.26 L195.30,113.81 L195.60,113.57 L195.90,112.57 L196.20,113.59 L196.50,112.19 L196.80,112.14 L197.10,112.57 L197.40,111.88 L197.70,112.95 L198.00,113.13 L198.30,113.40 L198.60,113.31 L198.90,114.43 L199.20,114.19 L199.50,114.11 L199.80,113.25 L200.10,111.33 L200.40,110.55 L200.70,109.38 L201.00,111.42 L201.30,112.95 L201.60,114.28 L201.90,114.22 L202.20,113.53 L202.50,114.05 L202.80,113.80 L203.10,114.40 L203.40,113.85 L203.70,112.42 L204.00,109.89 L204.30,108.61 L204.60,109.09 L204.90,111.89 L205.20,111.81 L205.50,111.78 L205.80,112.25 L206.10,113.03 L206.40,112.77 L206.70,113.52 L207.00,113.58 L207.30,112.74 L207.60,113.26 L207.90,111.89 L208.20,107.48 L208.50,101.64 L208.80,100.95 L209.10,105.49 L209.40,109.12 L209.70,107.63 L210.00,104.87 L210.30,105.62 L210.60,110.41 L210.90,112.75 L211.20,114.15 L211.50,113.86 L211.80,114.94 L212.10,114.81 L212.40,115.02 L212.70,113.60 L213.00,112.08 L213.30,108.79 L213.60,104.36 L213.90,102.64 L214.20,106.87 L214.50,111.71 L214.80,114.18 L215.10,114.56 L215.10,115.60 Z" fill="#2c4b8b" />
<path d="M223.30,115.60 L223.30,113.74 L223.65,113.93 L224.00,113.72 L224.35,113.34 L224.70,112.82 L225.05,114.40 L225.40,113.48 L225.75,114.43 L226.10,114.29 L226.45,113.04 L226.80,113.46 L227.15,112.85 L227.50,113.70 L227.85,114.47 L228.20,113.80 L228.55,113.43 L228.90,112.81 L229.25,112.73 L229.60,113.64 L229.95,113.76 L230.30,114.32 L230.65,113.34 L231.00,114.12 L231.35,114.23 L231.70,114.47 L232.05,114.49 L232.40,113.27 L232.75,114.28 L233.10,112.76 L233.45,114.34 L233.80,112.93 L234.15,114.27 L234.50,114.47 L234.85,113.21 L235.20,114.06 L235.55,113.18 L235.90,114.16 L236.25,114.41 L236.60,113.11 L236.95,113.22 L237.30,112.96 L237.65,113.19 L238.00,114.35 L238.35,113.37 L238.70,113.22 L239.05,113.67 L239.40,112.82 L239.75,114.04 L240.10,112.76 L240.45,113.21 L240.80,114.48 L241.15,114.47 L241.50,113.33 L241.85,113.03 L242.20,114.36 L242.55,113.94 L242.90,113.19 L243.25,114.20 L243.60,112.95 L243.95,113.62 L244.30,114.39 L244.65,113.84 L245.00,113.47 L245.35,113.71 L245.70,113.28 L246.05,114.24 L246.40,113.06 L246.75,113.85 L247.10,113.34 L247.45,113.37 L247.80,113.75 L248.15,113.81 L248.50,113.08 L248.85,112.80 L249.20,113.09 L249.55,113.48 L249.90,113.97 L250.25,114.39 L250.60,112.75 L250.95,113.23 L251.30,113.01 L251.65,113.90 L252.00,113.41 L252.35,112.74 L252.35,115.60 Z" fill="#2c4b8b" />
<rect x="191.30" y="116.80" width="23.70" height="9.70" fill="#2c4b8b" />
<line x1="220.70" y1="117.00" x2="220.70" y2="127.00" stroke="#2c4b8b" stroke-width="0.9" />
<line x1="215.00" y1="121.40" x2="253.30" y2="121.40" stroke="#5a6a90" stroke-width="1.0" />
<line x1="253.00" y1="117.00" x2="253.00" y2="127.00" stroke="#2c4b8b" stroke-width="0.9" />
<polyline points="235.80,118.00 232.50,121.40 235.80,124.80" fill="none" stroke="#2c4b8b" stroke-width="1.4"/>
<text x="144.40" y="124.07" font-size="6.3" fill="#111" text-anchor="start" font-weight="normal" textLength="43.00" lengthAdjust="spacingAndGlyphs" stroke="#111" stroke-width="0.15">TCONS_00050143</text>
<line x1="272.70" y1="9.50" x2="310.80" y2="16.80" stroke="#a3a3a3" stroke-width="1.5" stroke-dasharray="2.2,2.8"/>
<line x1="274.40" y1="66.10" x2="311.70" y2="63.00" stroke="#a3a3a3" stroke-width="1.5" stroke-dasharray="2.2,2.8"/>
<line x1="273.80" y1="71.60" x2="310.80" y2="79.00" stroke="#a3a3a3" stroke-width="1.5" stroke-dasharray="2.2,2.8"/>
<line x1="273.80" y1="129.50" x2="311.90" y2="126.00" stroke="#a3a3a3" stroke-width="1.5" stroke-dasharray="2.2,2.8"/>
<line x1="336.80" y1="36.40" x2="367.30" y2="9.30" stroke="#a3a3a3" stroke-width="1.5" stroke-dasharray="2.2,2.8"/>
<line x1="338.50" y1="45.00" x2="369.00" y2="74.60" stroke="#a3a3a3" stroke-width="1.5" stroke-dasharray="2.2,2.8"/>
<line x1="336.40" y1="94.20" x2="370.70" y2="73.50" stroke="#a3a3a3" stroke-width="1.5" stroke-dasharray="2.2,2.8"/>
<line x1="336.40" y1="112.00" x2="366.40" y2="139.60" stroke="#a3a3a3" stroke-width="1.5" stroke-dasharray="2.2,2.8"/>
<circle cx="312.8" cy="40.5" r="23.5" fill="#d8dcc3"/>
<polygon points="319.60,34.00 335.60,34.00 335.90,36.20 319.60,36.20" fill="#c6e2c6" />
<polygon points="316.00,40.60 336.20,38.70 336.30,42.60" fill="#d0687f" />
<text x="290.20" y="43.18" font-size="8.0" fill="#222a10" text-anchor="start" font-weight="normal" textLength="23.70" lengthAdjust="spacingAndGlyphs" stroke="#222a10" stroke-width="0.15">lncRNAs</text>
<circle cx="313.0" cy="102.8" r="23.4" fill="#d8dcc3"/>
<polygon points="313.70,102.50 335.29,95.69 335.69,97.08 336.00,98.49 336.22,99.92 336.36,101.36 336.40,102.80 336.36,104.24 336.22,105.68 336.00,107.11 335.69,108.52 335.29,109.91" fill="#d0687f" />
<text x="291.90" y="106.18" font-size="8.0" fill="#222a10" text-anchor="start" font-weight="normal" textLength="19.70" lengthAdjust="spacingAndGlyphs" stroke="#222a10" stroke-width="0.15">TUCPs</text>
<text x="357.00" y="26.62" font-size="5.6" fill="#6e5230" text-anchor="start" font-weight="normal" textLength="20.80" lengthAdjust="spacingAndGlyphs">Ribo-seq</text>
<text x="357.00" y="40.62" font-size="5.6" fill="#34528a" text-anchor="start" font-weight="normal" textLength="20.80" lengthAdjust="spacingAndGlyphs">RNA-seq</text>
<text x="357.00" y="52.52" font-size="5.6" fill="#b3234e" text-anchor="start" font-weight="normal" textLength="24.70" lengthAdjust="spacingAndGlyphs">RRS+ TE+</text>
<text x="357.00" y="59.32" font-size="5.6" fill="#b3234e" text-anchor="start" font-weight="normal" textLength="10.50" lengthAdjust="spacingAndGlyphs">ORF</text>
<line x1="389.90" y1="6.80" x2="389.90" y2="57.60" stroke="#d8d0bf" stroke-width="0.9" />
<text x="388.20" y="17.22" font-size="3.4" fill="#c4a47c" text-anchor="end" font-weight="normal">100</text>
<text x="388.20" y="30.52" font-size="3.4" fill="#c4a47c" text-anchor="end" font-weight="normal">1</text>
<text x="388.20" y="33.02" font-size="3.4" fill="#c4a47c" text-anchor="end" font-weight="normal">1000</text>
<text x="388.20" y="45.72" font-size="3.4" fill="#c4a47c" text-anchor="end" font-weight="normal">1</text>
<text x="412.70" y="12.00" font-size="6.4" fill="#222" text-anchor="start" font-weight="normal" textLength="11.50" lengthAdjust="spacingAndGlyphs" stroke="#222" stroke-width="0.15">20kb</text>
<line x1="426.50" y1="9.70" x2="464.20" y2="9.70" stroke="#222" stroke-width="1.0" />
<line x1="426.50" y1="8.40" x2="426.50" y2="11.00" stroke="#222" stroke-width="1.0" />
<line x1="464.20" y1="8.40" x2="464.20" y2="11.00" stroke="#222" stroke-width="1.0" />
<line x1="408.00" y1="29.50" x2="481.00" y2="29.50" stroke="#cfc3b0" stroke-width="0.8" stroke-dasharray="1.6,1.8"/>
<line x1="408.60" y1="15.00" x2="408.60" y2="29.50" stroke="#c8b8a0" stroke-width="0.8" />
<line x1="460.60" y1="15.00" x2="460.60" y2="29.50" stroke="#8b6a40" stroke-width="0.9" />
<line x1="463.60" y1="15.00" x2="463.60" y2="29.50" stroke="#6e4a1e" stroke-width="1.0" />
<line x1="408.00" y1="45.70" x2="500.40" y2="45.70" stroke="#35508a" stroke-width="0.9" />
<line x1="408.60" y1="37.00" x2="408.60" y2="45.70" stroke="#8da0c8" stroke-width="0.8" />
<line x1="460.60" y1="36.00" x2="460.60" y2="45.70" stroke="#5070b0" stroke-width="0.8" />
<path d="M462.00,45.70 L462.00,45.70 L462.50,36.00 L463.20,33.00 L463.80,32.30 L464.50,34.00 L465.20,33.50 L466.00,37.00 L467.00,40.00 L468.00,42.00 L470.00,43.00 L473.00,43.50 L476.00,44.00 L480.80,44.80 L480.80,45.70 Z" fill="#2c4b8b" />
<line x1="460.60" y1="48.00" x2="460.60" y2="55.00" stroke="#d07090" stroke-width="0.9" />
<line x1="464.00" y1="48.00" x2="464.00" y2="55.00" stroke="#d07090" stroke-width="0.9" />
<line x1="460.60" y1="51.30" x2="464.00" y2="51.30" stroke="#d07090" stroke-width="0.9" />
<line x1="408.50" y1="63.00" x2="460.50" y2="63.00" stroke="#3b558f" stroke-width="0.9" />
<line x1="408.50" y1="59.00" x2="408.50" y2="67.50" stroke="#3b558f" stroke-width="0.9" />
<polyline points="439.20,59.90 443.00,63.00 439.20,66.10" fill="none" stroke="#2c4b8b" stroke-width="1.4"/>
<line x1="459.60" y1="58.00" x2="459.60" y2="68.00" stroke="#3b558f" stroke-width="0.8" />
<rect x="462.30" y="58.30" width="3.60" height="9.60" fill="#22386e" />
<text x="385.00" y="65.76" font-size="6.0" fill="#111" text-anchor="start" font-weight="normal" textLength="17.90" lengthAdjust="spacingAndGlyphs" stroke="#111" stroke-width="0.15">Radrum</text>
<text x="357.00" y="95.02" font-size="5.6" fill="#6e5230" text-anchor="start" font-weight="normal" textLength="20.80" lengthAdjust="spacingAndGlyphs">Ribo-seq</text>
<text x="357.00" y="109.02" font-size="5.6" fill="#34528a" text-anchor="start" font-weight="normal" textLength="20.80" lengthAdjust="spacingAndGlyphs">RNA-seq</text>
<text x="357.00" y="120.92" font-size="5.6" fill="#b3234e" text-anchor="start" font-weight="normal" textLength="24.70" lengthAdjust="spacingAndGlyphs">RRS+ TE+</text>
<text x="357.00" y="127.22" font-size="5.6" fill="#b3234e" text-anchor="start" font-weight="normal" textLength="10.50" lengthAdjust="spacingAndGlyphs">ORF</text>
<line x1="389.90" y1="77.70" x2="389.90" y2="130.00" stroke="#d8d0bf" stroke-width="0.9" />
<text x="388.20" y="85.72" font-size="3.4" fill="#c4a47c" text-anchor="end" font-weight="normal">100</text>
<text x="388.20" y="99.22" font-size="3.4" fill="#c4a47c" text-anchor="end" font-weight="normal">1</text>
<text x="388.20" y="101.82" font-size="3.4" fill="#c4a47c" text-anchor="end" font-weight="normal">1000</text>
<text x="388.20" y="115.92" font-size="3.4" fill="#c4a47c" text-anchor="end" font-weight="normal">1</text>
<text x="415.00" y="80.30" font-size="6.4" fill="#222" text-anchor="start" font-weight="normal" textLength="8.00" lengthAdjust="spacingAndGlyphs" stroke="#222" stroke-width="0.15">5kb</text>
<line x1="426.50" y1="78.00" x2="467.00" y2="78.00" stroke="#222" stroke-width="1.0" />
<line x1="426.50" y1="76.70" x2="426.50" y2="79.30" stroke="#222" stroke-width="1.0" />
<line x1="467.00" y1="76.70" x2="467.00" y2="79.30" stroke="#222" stroke-width="1.0" />
<line x1="403.50" y1="98.80" x2="495.80" y2="98.80" stroke="#bfb29c" stroke-width="0.8" stroke-dasharray="2.0,1.6"/>
<line x1="410.40" y1="83.80" x2="410.40" y2="98.80" stroke="#6e4a1e" stroke-width="1.0" />
<line x1="473.40" y1="83.80" x2="473.40" y2="98.80" stroke="#8b6a40" stroke-width="0.9" />
<path d="M479.00,98.80 L479.00,98.80 L479.40,95.00 L480.20,95.50 L481.00,97.50 L481.00,98.80 Z" fill="#6e4613" />
<line x1="392.00" y1="114.30" x2="500.40" y2="114.30" stroke="#35508a" stroke-width="0.9" />
<path d="M409.50,114.30 L409.50,114.30 L410.00,112.50 L411.00,112.60 L411.50,114.30 L411.50,114.30 Z" fill="#2c4b8b" />
<line x1="473.20" y1="109.50" x2="473.20" y2="114.30" stroke="#5070b0" stroke-width="0.9" />
<path d="M477.80,114.30 L477.80,114.30 L478.20,106.00 L479.00,103.00 L479.80,101.50 L480.60,101.20 L481.40,102.50 L482.20,101.80 L483.00,105.00 L483.80,108.00 L484.60,111.50 L486.00,113.00 L490.00,113.60 L490.00,114.30 Z" fill="#2c4b8b" />
<line x1="410.40" y1="121.80" x2="472.60" y2="121.80" stroke="#e3a5b5" stroke-width="1.0" />
<line x1="410.40" y1="116.80" x2="410.40" y2="127.10" stroke="#d06a8a" stroke-width="0.9" />
<line x1="472.60" y1="116.80" x2="472.60" y2="127.10" stroke="#d06a8a" stroke-width="0.9" />
<line x1="478.70" y1="116.80" x2="478.70" y2="127.10" stroke="#d06a8a" stroke-width="0.9" />
<line x1="410.40" y1="133.60" x2="472.60" y2="133.60" stroke="#4a5f8a" stroke-width="1.0" />
<line x1="410.40" y1="128.50" x2="410.40" y2="139.00" stroke="#3b558f" stroke-width="0.9" />
<line x1="472.60" y1="128.50" x2="472.60" y2="139.00" stroke="#3b558f" stroke-width="0.9" />
<polyline points="443.20,130.20 447.00,133.60 443.20,137.00" fill="none" stroke="#2c4b8b" stroke-width="1.4"/>
<rect x="478.70" y="128.80" width="4.00" height="10.10" fill="#22386e" />
<text x="376.60" y="136.36" font-size="6.0" fill="#111" text-anchor="start" font-weight="normal" textLength="27.10" lengthAdjust="spacingAndGlyphs" stroke="#111" stroke-width="0.15">NR_015608</text>
<text x="135.80" y="157.68" font-size="11.0" font-weight="bold" fill="#000">C</text>
<text x="186.90" y="168.03" font-size="7.3" fill="#222" text-anchor="start" font-weight="normal" textLength="69.80" lengthAdjust="spacingAndGlyphs">Upstream ORFs (498)</text>
<line x1="221.60" y1="172.30" x2="221.60" y2="236.60" stroke="#cfcfcf" stroke-width="1.3" />
<rect x="158.80" y="230.56" width="1.40" height="6.04" fill="#a8183c" stroke="#3a2a30" stroke-width="0.3"/>
<rect x="160.87" y="229.01" width="1.40" height="7.59" fill="#2f4c8c" stroke="#3a2a30" stroke-width="0.3"/>
<rect x="162.94" y="235.31" width="1.40" height="1.29" fill="#74b052" stroke="#3a2a30" stroke-width="0.3"/>
<rect x="165.01" y="232.36" width="1.40" height="4.24" fill="#a8183c" stroke="#3a2a30" stroke-width="0.3"/>
<rect x="167.08" y="233.64" width="1.40" height="2.96" fill="#2f4c8c" stroke="#3a2a30" stroke-width="0.3"/>
<rect x="169.15" y="231.71" width="1.40" height="4.89" fill="#74b052" stroke="#3a2a30" stroke-width="0.3"/>
<rect x="171.22" y="229.66" width="1.40" height="6.94" fill="#a8183c" stroke="#3a2a30" stroke-width="0.3"/>
<rect x="173.29" y="230.17" width="1.40" height="6.43" fill="#2f4c8c" stroke="#3a2a30" stroke-width="0.3"/>
<rect x="175.36" y="233.64" width="1.40" height="2.96" fill="#74b052" stroke="#3a2a30" stroke-width="0.3"/>
<rect x="177.43" y="235.06" width="1.40" height="1.54" fill="#a8183c" stroke="#3a2a30" stroke-width="0.3"/>
<rect x="179.50" y="232.36" width="1.40" height="4.24" fill="#2f4c8c" stroke="#3a2a30" stroke-width="0.3"/>
<rect x="181.57" y="235.31" width="1.40" height="1.29" fill="#74b052" stroke="#3a2a30" stroke-width="0.3"/>
<rect x="183.64" y="231.97" width="1.40" height="4.63" fill="#a8183c" stroke="#3a2a30" stroke-width="0.3"/>
<rect x="185.71" y="233.00" width="1.40" height="3.60" fill="#2f4c8c" stroke="#3a2a30" stroke-width="0.3"/>
<rect x="187.78" y="235.31" width="1.40" height="1.29" fill="#74b052" stroke="#3a2a30" stroke-width="0.3"/>
<rect x="189.85" y="233.00" width="1.40" height="3.60" fill="#a8183c" stroke="#3a2a30" stroke-width="0.3"/>
<rect x="191.92" y="235.96" width="1.40" height="0.64" fill="#2f4c8c" stroke="#3a2a30" stroke-width="0.3"/>
<rect x="193.99" y="226.95" width="1.40" height="9.65" fill="#74b052" stroke="#3a2a30" stroke-width="0.3"/>
<rect x="196.06" y="201.36" width="1.40" height="35.24" fill="#a8183c" stroke="#3a2a30" stroke-width="0.3"/>
<rect x="198.13" y="230.94" width="1.40" height="5.66" fill="#2f4c8c" stroke="#3a2a30" stroke-width="0.3"/>
<rect x="200.20" y="224.25" width="1.40" height="12.35" fill="#74b052" stroke="#3a2a30" stroke-width="0.3"/>
<rect x="202.27" y="210.24" width="1.40" height="26.36" fill="#a8183c" stroke="#3a2a30" stroke-width="0.3"/>
<rect x="204.34" y="221.04" width="1.40" height="15.56" fill="#2f4c8c" stroke="#3a2a30" stroke-width="0.3"/>
<rect x="206.41" y="218.34" width="1.40" height="18.26" fill="#74b052" stroke="#3a2a30" stroke-width="0.3"/>
<rect x="208.48" y="212.94" width="1.40" height="23.66" fill="#a8183c" stroke="#3a2a30" stroke-width="0.3"/>
<rect x="210.55" y="220.27" width="1.40" height="16.33" fill="#2f4c8c" stroke="#3a2a30" stroke-width="0.3"/>
<rect x="212.62" y="228.88" width="1.40" height="7.72" fill="#74b052" stroke="#3a2a30" stroke-width="0.3"/>
<rect x="214.69" y="215.64" width="1.40" height="20.96" fill="#a8183c" stroke="#3a2a30" stroke-width="0.3"/>
<rect x="216.76" y="226.31" width="1.40" height="10.29" fill="#2f4c8c" stroke="#3a2a30" stroke-width="0.3"/>
<rect x="218.83" y="230.43" width="1.40" height="6.17" fill="#74b052" stroke="#3a2a30" stroke-width="0.3"/>
<rect x="220.90" y="216.02" width="1.40" height="20.58" fill="#a8183c" stroke="#3a2a30" stroke-width="0.3"/>
<rect x="222.97" y="234.03" width="1.40" height="2.57" fill="#2f4c8c" stroke="#3a2a30" stroke-width="0.3"/>
<rect x="225.04" y="233.77" width="1.40" height="2.83" fill="#74b052" stroke="#3a2a30" stroke-width="0.3"/>
<rect x="227.11" y="203.42" width="1.40" height="33.18" fill="#a8183c" stroke="#3a2a30" stroke-width="0.3"/>
<rect x="229.18" y="227.60" width="1.40" height="9.00" fill="#2f4c8c" stroke="#3a2a30" stroke-width="0.3"/>
<rect x="231.25" y="227.86" width="1.40" height="8.74" fill="#74b052" stroke="#3a2a30" stroke-width="0.3"/>
<rect x="233.32" y="216.02" width="1.40" height="20.58" fill="#a8183c" stroke="#3a2a30" stroke-width="0.3"/>
<rect x="235.39" y="228.63" width="1.40" height="7.97" fill="#2f4c8c" stroke="#3a2a30" stroke-width="0.3"/>
<rect x="237.46" y="229.27" width="1.40" height="7.33" fill="#74b052" stroke="#3a2a30" stroke-width="0.3"/>
<rect x="239.53" y="225.54" width="1.40" height="11.06" fill="#a8183c" stroke="#3a2a30" stroke-width="0.3"/>
<rect x="241.60" y="228.63" width="1.40" height="7.97" fill="#2f4c8c" stroke="#3a2a30" stroke-width="0.3"/>
<rect x="243.67" y="227.08" width="1.40" height="9.52" fill="#74b052" stroke="#3a2a30" stroke-width="0.3"/>
<rect x="245.74" y="224.25" width="1.40" height="12.35" fill="#a8183c" stroke="#3a2a30" stroke-width="0.3"/>
<rect x="247.81" y="222.20" width="1.40" height="14.40" fill="#2f4c8c" stroke="#3a2a30" stroke-width="0.3"/>
<rect x="249.88" y="227.08" width="1.40" height="9.52" fill="#74b052" stroke="#3a2a30" stroke-width="0.3"/>
<rect x="251.95" y="226.05" width="1.40" height="10.55" fill="#a8183c" stroke="#3a2a30" stroke-width="0.3"/>
<rect x="254.02" y="226.05" width="1.40" height="10.55" fill="#2f4c8c" stroke="#3a2a30" stroke-width="0.3"/>
<rect x="256.09" y="227.08" width="1.40" height="9.52" fill="#74b052" stroke="#3a2a30" stroke-width="0.3"/>
<rect x="258.16" y="230.81" width="1.40" height="5.79" fill="#a8183c" stroke="#3a2a30" stroke-width="0.3"/>
<rect x="260.23" y="231.07" width="1.40" height="5.53" fill="#2f4c8c" stroke="#3a2a30" stroke-width="0.3"/>
<rect x="262.30" y="231.58" width="1.40" height="5.02" fill="#74b052" stroke="#3a2a30" stroke-width="0.3"/>
<rect x="264.37" y="228.24" width="1.40" height="8.36" fill="#a8183c" stroke="#3a2a30" stroke-width="0.3"/>
<rect x="266.44" y="229.01" width="1.40" height="7.59" fill="#2f4c8c" stroke="#3a2a30" stroke-width="0.3"/>
<rect x="268.51" y="229.01" width="1.40" height="7.59" fill="#74b052" stroke="#3a2a30" stroke-width="0.3"/>
<rect x="270.58" y="223.35" width="1.40" height="13.25" fill="#a8183c" stroke="#3a2a30" stroke-width="0.3"/>
<rect x="272.65" y="228.24" width="1.40" height="8.36" fill="#2f4c8c" stroke="#3a2a30" stroke-width="0.3"/>
<rect x="274.72" y="230.81" width="1.40" height="5.79" fill="#74b052" stroke="#3a2a30" stroke-width="0.3"/>
<rect x="276.79" y="224.64" width="1.40" height="11.96" fill="#a8183c" stroke="#3a2a30" stroke-width="0.3"/>
<rect x="278.86" y="230.04" width="1.40" height="6.56" fill="#2f4c8c" stroke="#3a2a30" stroke-width="0.3"/>
<rect x="280.93" y="233.00" width="1.40" height="3.60" fill="#74b052" stroke="#3a2a30" stroke-width="0.3"/>
<rect x="283.00" y="224.64" width="1.40" height="11.96" fill="#a8183c" stroke="#3a2a30" stroke-width="0.3"/>
<rect x="155.5" y="172.3" width="133" height="64.3" fill="none" stroke="#111" stroke-width="1.1"/>
<line x1="153.00" y1="236.60" x2="155.50" y2="236.60" stroke="#111" stroke-width="1" />
<text x="150.30" y="238.54" font-size="5.4" fill="#333" text-anchor="end" font-weight="normal">0</text>
<line x1="153.00" y1="223.74" x2="155.50" y2="223.74" stroke="#111" stroke-width="1" />
<text x="150.30" y="225.68" font-size="5.4" fill="#333" text-anchor="end" font-weight="normal">1</text>
<line x1="153.00" y1="210.88" x2="155.50" y2="210.88" stroke="#111" stroke-width="1" />
<text x="150.30" y="212.82" font-size="5.4" fill="#333" text-anchor="end" font-weight="normal">2</text>
<line x1="153.00" y1="198.02" x2="155.50" y2="198.02" stroke="#111" stroke-width="1" />
<text x="150.30" y="199.96" font-size="5.4" fill="#333" text-anchor="end" font-weight="normal">3</text>
<line x1="153.00" y1="185.16" x2="155.50" y2="185.16" stroke="#111" stroke-width="1" />
<text x="150.30" y="187.10" font-size="5.4" fill="#333" text-anchor="end" font-weight="normal">4</text>
<line x1="153.00" y1="172.30" x2="155.50" y2="172.30" stroke="#111" stroke-width="1" />
<text x="150.30" y="174.24" font-size="5.4" fill="#333" text-anchor="end" font-weight="normal">5</text>
<line x1="159.50" y1="236.60" x2="159.50" y2="239.00" stroke="#111" stroke-width="1" />
<text x="158.80" y="247.94" font-size="5.4" fill="#333" text-anchor="middle" font-weight="normal">-30</text>
<line x1="180.20" y1="236.60" x2="180.20" y2="239.00" stroke="#111" stroke-width="1" />
<text x="179.50" y="247.94" font-size="5.4" fill="#333" text-anchor="middle" font-weight="normal">-20</text>
<line x1="200.90" y1="236.60" x2="200.90" y2="239.00" stroke="#111" stroke-width="1" />
<text x="200.20" y="247.94" font-size="5.4" fill="#333" text-anchor="middle" font-weight="normal">-10</text>
<line x1="221.60" y1="236.60" x2="221.60" y2="239.00" stroke="#111" stroke-width="1" />
<text x="221.60" y="247.94" font-size="5.4" fill="#333" text-anchor="middle" font-weight="normal">0</text>
<line x1="242.30" y1="236.60" x2="242.30" y2="239.00" stroke="#111" stroke-width="1" />
<text x="242.30" y="247.94" font-size="5.4" fill="#333" text-anchor="middle" font-weight="normal">10</text>
<line x1="263.00" y1="236.60" x2="263.00" y2="239.00" stroke="#111" stroke-width="1" />
<text x="263.00" y="247.94" font-size="5.4" fill="#333" text-anchor="middle" font-weight="normal">20</text>
<line x1="283.70" y1="236.60" x2="283.70" y2="239.00" stroke="#111" stroke-width="1" />
<text x="283.70" y="247.94" font-size="5.4" fill="#333" text-anchor="middle" font-weight="normal">30</text>
<text x="221.80" y="257.58" font-size="8.0" fill="#222" text-anchor="middle" font-weight="normal" textLength="71.60" lengthAdjust="spacingAndGlyphs" stroke="#222" stroke-width="0.15">Distance from uORF start</text>
<text transform="translate(139.20,202.70) rotate(-90)" x="0" y="2.88" font-size="8.0" fill="#222" text-anchor="middle" font-weight="normal" textLength="57.00" lengthAdjust="spacingAndGlyphs" stroke="#222" stroke-width="0.15">Read density (RPM)</text>
<rect x="260.30" y="178.10" width="4.90" height="4.20" fill="#a8183c" />
<text x="267.80" y="181.86" font-size="4.6" fill="#111" text-anchor="start" font-weight="normal" textLength="14.90" lengthAdjust="spacingAndGlyphs">Frame 1</text>
<rect x="260.30" y="183.90" width="4.90" height="4.20" fill="#2f4c8c" />
<text x="267.80" y="187.66" font-size="4.6" fill="#111" text-anchor="start" font-weight="normal" textLength="14.90" lengthAdjust="spacingAndGlyphs">Frame 2</text>
<rect x="260.30" y="189.80" width="4.90" height="4.20" fill="#74b052" />
<text x="267.80" y="193.56" font-size="4.6" fill="#111" text-anchor="start" font-weight="normal" textLength="14.90" lengthAdjust="spacingAndGlyphs">Frame 3</text>
<rect x="319.90" y="184.66" width="6.10" height="51.94" fill="#b3002d" />
<rect x="326.00" y="209.04" width="5.70" height="27.56" fill="#2e4f8e" />
<rect x="331.70" y="209.89" width="5.80" height="26.71" fill="#6bab47" />
<line x1="316.20" y1="170.50" x2="316.20" y2="237.10" stroke="#111" stroke-width="1.1" />
<line x1="316.20" y1="236.60" x2="344.20" y2="236.60" stroke="#111" stroke-width="1.1" />
<line x1="341.50" y1="236.60" x2="341.50" y2="239.20" stroke="#111" stroke-width="1" />
<line x1="316.20" y1="236.60" x2="316.20" y2="239.20" stroke="#111" stroke-width="1" />
<line x1="313.60" y1="236.60" x2="316.20" y2="236.60" stroke="#111" stroke-width="1" />
<text x="310.30" y="238.54" font-size="5.4" fill="#333" text-anchor="end" font-weight="normal" textLength="7.40" lengthAdjust="spacingAndGlyphs">0.0</text>
<line x1="313.60" y1="226.00" x2="316.20" y2="226.00" stroke="#111" stroke-width="1" />
<text x="310.30" y="227.94" font-size="5.4" fill="#333" text-anchor="end" font-weight="normal" textLength="7.40" lengthAdjust="spacingAndGlyphs">0.1</text>
<line x1="313.60" y1="215.40" x2="316.20" y2="215.40" stroke="#111" stroke-width="1" />
<text x="310.30" y="217.34" font-size="5.4" fill="#333" text-anchor="end" font-weight="normal" textLength="7.40" lengthAdjust="spacingAndGlyphs">0.2</text>
<line x1="313.60" y1="204.80" x2="316.20" y2="204.80" stroke="#111" stroke-width="1" />
<text x="310.30" y="206.74" font-size="5.4" fill="#333" text-anchor="end" font-weight="normal" textLength="7.40" lengthAdjust="spacingAndGlyphs">0.3</text>
<line x1="313.60" y1="194.20" x2="316.20" y2="194.20" stroke="#111" stroke-width="1" />
<text x="310.30" y="196.14" font-size="5.4" fill="#333" text-anchor="end" font-weight="normal" textLength="7.40" lengthAdjust="spacingAndGlyphs">0.4</text>
<line x1="313.60" y1="183.60" x2="316.20" y2="183.60" stroke="#111" stroke-width="1" />
<text x="310.30" y="185.54" font-size="5.4" fill="#333" text-anchor="end" font-weight="normal" textLength="7.40" lengthAdjust="spacingAndGlyphs">0.5</text>
<line x1="313.60" y1="173.00" x2="316.20" y2="173.00" stroke="#111" stroke-width="1" />
<text x="310.30" y="174.94" font-size="5.4" fill="#333" text-anchor="end" font-weight="normal" textLength="7.40" lengthAdjust="spacingAndGlyphs">0.6</text>
<text transform="translate(296.00,203.00) rotate(-90)" x="0" y="2.88" font-size="8.0" fill="#222" text-anchor="middle" font-weight="normal" textLength="45.70" lengthAdjust="spacingAndGlyphs" stroke="#222" stroke-width="0.15">Fraction of reads</text>
<text x="350.40" y="157.88" font-size="11.0" font-weight="bold" fill="#000">D</text>
<rect x="349.90" y="195.30" width="16.60" height="3.50" fill="#555" />
<rect x="398.00" y="195.30" width="16.20" height="3.50" fill="#555" />
<rect x="349.9" y="195.3" width="16.6" height="3.5" fill="url(#hatch)"/>
<rect x="398" y="195.3" width="16.2" height="3.5" fill="url(#hatch)"/>
<line x1="366.50" y1="197.05" x2="398.00" y2="197.05" stroke="#111" stroke-width="1.0" />
<polygon points="371.50,197.05 376.00,195.40 376.00,198.70" fill="#111" />
<polygon points="391.00,197.05 386.50,195.40 386.50,198.70" fill="#111" />
<polygon points="366.50,197.05 369.00,195.90 369.00,198.20" fill="#111" />
<polygon points="398.00,197.05 395.50,195.90 395.50,198.20" fill="#111" />
<text x="357.40" y="193.63" font-size="4.8" fill="#222" text-anchor="middle" font-weight="normal" textLength="8.70" lengthAdjust="spacingAndGlyphs">Fluc</text>
<text x="405.60" y="193.63" font-size="4.8" fill="#222" text-anchor="middle" font-weight="normal" textLength="9.50" lengthAdjust="spacingAndGlyphs">Rluc</text>
<text x="382.20" y="188.13" font-size="4.8" fill="#222" text-anchor="middle" font-weight="normal" textLength="22.00" lengthAdjust="spacingAndGlyphs">Bidirectional</text>
<text x="382.20" y="193.33" font-size="4.8" fill="#222" text-anchor="middle" font-weight="normal" textLength="25.00" lengthAdjust="spacingAndGlyphs">CMV Promoter</text>
<line x1="395.70" y1="198.80" x2="395.70" y2="205.20" stroke="#b0203a" stroke-width="0.9" />
<line x1="374.10" y1="205.20" x2="409.40" y2="205.20" stroke="#b0203a" stroke-width="1.0" />
<text x="390.80" y="210.26" font-size="4.6" fill="#222" text-anchor="middle" font-weight="normal" textLength="39.00" lengthAdjust="spacingAndGlyphs">WT 5'UTR with uORF</text>
<text x="389.90" y="214.76" font-size="4.6" fill="#222" text-anchor="middle" font-weight="normal" textLength="69.50" lengthAdjust="spacingAndGlyphs">Mut 5'UTR without uORF (ATG - ATT)</text>
<rect x="458.90" y="212.20" width="7.90" height="25.20" fill="#2e4f8e" />
<rect x="470.50" y="190.65" width="7.40" height="46.75" fill="#b3002d" />
<rect x="489.00" y="212.20" width="7.70" height="25.20" fill="#2e4f8e" />
<rect x="500.10" y="191.16" width="7.70" height="46.24" fill="#b3002d" />
<line x1="462.85" y1="210.50" x2="462.85" y2="212.00" stroke="#333" stroke-width="0.9" />
<line x1="460.85" y1="210.50" x2="464.85" y2="210.50" stroke="#333" stroke-width="1.0" />
<line x1="474.20" y1="188.00" x2="474.20" y2="190.60" stroke="#333" stroke-width="0.9" />
<line x1="472.20" y1="188.00" x2="476.20" y2="188.00" stroke="#333" stroke-width="1.0" />
<line x1="492.85" y1="210.70" x2="492.85" y2="211.80" stroke="#333" stroke-width="0.9" />
<line x1="490.85" y1="210.70" x2="494.85" y2="210.70" stroke="#333" stroke-width="1.0" />
<line x1="503.95" y1="187.60" x2="503.95" y2="191.10" stroke="#333" stroke-width="0.9" />
<line x1="501.95" y1="187.60" x2="505.95" y2="187.60" stroke="#333" stroke-width="1.0" />
<line x1="452.80" y1="173.10" x2="452.80" y2="237.90" stroke="#111" stroke-width="1.1" />
<line x1="452.80" y1="237.40" x2="513.00" y2="237.40" stroke="#111" stroke-width="1.1" />
<line x1="450.30" y1="237.40" x2="452.80" y2="237.40" stroke="#111" stroke-width="1" />
<text x="449.40" y="239.34" font-size="5.4" fill="#333" text-anchor="end" font-weight="normal">0</text>
<line x1="450.30" y1="224.80" x2="452.80" y2="224.80" stroke="#111" stroke-width="1" />
<text x="449.40" y="226.74" font-size="5.4" fill="#333" text-anchor="end" font-weight="normal">0.5</text>
<line x1="450.30" y1="212.20" x2="452.80" y2="212.20" stroke="#111" stroke-width="1" />
<text x="449.40" y="214.14" font-size="5.4" fill="#333" text-anchor="end" font-weight="normal">1</text>
<line x1="450.30" y1="199.60" x2="452.80" y2="199.60" stroke="#111" stroke-width="1" />
<text x="449.40" y="201.54" font-size="5.4" fill="#333" text-anchor="end" font-weight="normal">1.5</text>
<line x1="450.30" y1="187.00" x2="452.80" y2="187.00" stroke="#111" stroke-width="1" />
<text x="449.40" y="188.94" font-size="5.4" fill="#333" text-anchor="end" font-weight="normal">2</text>
<line x1="450.30" y1="174.40" x2="452.80" y2="174.40" stroke="#111" stroke-width="1" />
<text x="449.40" y="176.34" font-size="5.4" fill="#333" text-anchor="end" font-weight="normal">2.5</text>
<rect x="466.00" y="174.80" width="4.20" height="4.30" fill="#2e4f8e" />
<text x="471.60" y="178.58" font-size="4.4" fill="#333" text-anchor="start" font-weight="normal" textLength="6.20" lengthAdjust="spacingAndGlyphs">WT</text>
<rect x="488.20" y="174.80" width="4.20" height="4.30" fill="#b3002d" />
<text x="494.00" y="178.58" font-size="4.4" fill="#333" text-anchor="start" font-weight="normal" textLength="6.40" lengthAdjust="spacingAndGlyphs">Mut</text>
<text x="469.50" y="248.59" font-size="5.8" fill="#222" text-anchor="middle" font-weight="normal" textLength="16.00" lengthAdjust="spacingAndGlyphs">Bcl11A</text>
<text x="469.50" y="255.49" font-size="5.8" fill="#222" text-anchor="middle" font-weight="normal" textLength="15.00" lengthAdjust="spacingAndGlyphs">5'UTR</text>
<text x="498.80" y="248.59" font-size="5.8" fill="#222" text-anchor="middle" font-weight="normal" textLength="13.50" lengthAdjust="spacingAndGlyphs">Trak2</text>
<text x="498.80" y="255.49" font-size="5.8" fill="#222" text-anchor="middle" font-weight="normal" textLength="15.00" lengthAdjust="spacingAndGlyphs">5'UTR</text>
<text transform="translate(433.90,205.20) rotate(-90)" x="0" y="2.95" font-size="8.2" fill="#222" text-anchor="middle" font-weight="normal" textLength="82.00" lengthAdjust="spacingAndGlyphs" stroke="#222" stroke-width="0.15">Normalized luciferase activity</text>
<text x="7.20" y="275.88" font-size="11.0" font-weight="bold" fill="#000">E</text>
<text x="12.20" y="300.42" font-size="5.6" fill="#4a4a48" text-anchor="start" font-weight="normal" textLength="21.20" lengthAdjust="spacingAndGlyphs">Ribo-seq</text>
<text x="12.20" y="315.22" font-size="5.6" fill="#4a4c55" text-anchor="start" font-weight="normal" textLength="21.60" lengthAdjust="spacingAndGlyphs">RNA-seq</text>
<text x="12.20" y="329.32" font-size="5.6" fill="#c8449a" text-anchor="start" font-weight="normal" textLength="15.20" lengthAdjust="spacingAndGlyphs">uORF</text>
<line x1="44.30" y1="284.70" x2="44.30" y2="328.80" stroke="#d4d4d4" stroke-width="0.9" />
<text x="42.60" y="293.62" font-size="3.4" fill="#9a9a9a" text-anchor="end" font-weight="normal">100</text>
<text x="42.60" y="305.22" font-size="3.4" fill="#9a9a9a" text-anchor="end" font-weight="normal">1</text>
<text x="42.60" y="307.62" font-size="3.4" fill="#9a9a9a" text-anchor="end" font-weight="normal">1000</text>
<text x="42.60" y="321.52" font-size="3.4" fill="#9a9a9a" text-anchor="end" font-weight="normal">1</text>
<text x="61.60" y="281.92" font-size="5.6" fill="#222" text-anchor="start" font-weight="normal" textLength="9.60" lengthAdjust="spacingAndGlyphs">2 kb</text>
<line x1="73.70" y1="279.90" x2="104.40" y2="279.90" stroke="#222" stroke-width="1.0" />
<line x1="73.70" y1="278.60" x2="73.70" y2="281.20" stroke="#222" stroke-width="1.0" />
<line x1="104.40" y1="278.60" x2="104.40" y2="281.20" stroke="#222" stroke-width="1.0" />
<line x1="46.60" y1="305.50" x2="71.20" y2="305.50" stroke="#9a7a50" stroke-width="0.8" />
<path d="M52.00,305.50 L52.00,305.17 L52.50,305.26 L53.00,305.38 L53.50,305.33 L54.00,305.14 L54.50,305.35 L55.00,305.23 L55.50,305.26 L56.00,305.14 L56.50,305.18 L57.00,305.39 L57.50,305.50 L58.00,305.39 L58.50,305.31 L59.00,305.10 L59.50,304.48 L60.00,303.57 L60.50,303.17 L61.00,302.58 L61.50,302.58 L62.00,302.75 L62.50,303.52 L63.00,304.54 L63.50,304.93 L64.00,305.15 L64.50,305.20 L65.00,304.74 L65.50,302.86 L66.00,298.32 L66.50,293.64 L67.00,291.79 L67.50,291.95 L68.00,292.98 L68.50,296.94 L69.00,302.15 L69.50,304.64 L70.00,305.18 L70.50,305.31 L71.00,305.42 L71.00,305.50 Z" fill="#6b4312" />
<line x1="76.15" y1="308.20" x2="77.75" y2="304.20" stroke="#23283e" stroke-width="1.05" />
<line x1="78.25" y1="308.20" x2="79.85" y2="304.20" stroke="#23283e" stroke-width="1.05" />
<line x1="82.40" y1="305.50" x2="120.50" y2="305.50" stroke="#9a7a50" stroke-width="0.8" />
<path d="M83.00,305.50 L83.00,304.67 L83.50,304.32 L84.00,304.30 L84.50,304.53 L85.00,304.79 L85.50,304.29 L86.00,304.31 L86.50,304.68 L87.00,304.36 L87.50,303.56 L88.00,301.78 L88.50,299.42 L89.00,297.58 L89.50,296.95 L90.00,297.26 L90.50,298.04 L91.00,300.17 L91.50,302.37 L92.00,304.09 L92.50,304.01 L93.00,302.79 L93.50,300.54 L94.00,299.30 L94.50,299.02 L95.00,298.46 L95.50,299.87 L96.00,301.87 L96.50,302.11 L97.00,300.43 L97.50,299.12 L98.00,298.25 L98.50,298.46 L99.00,299.14 L99.50,301.55 L100.00,303.68 L100.50,303.95 L101.00,303.99 L101.50,303.57 L102.00,302.58 L102.50,302.26 L103.00,301.80 L103.50,302.14 L104.00,302.32 L104.50,303.37 L105.00,304.03 L105.50,304.15 L106.00,304.67 L106.50,304.75 L107.00,304.04 L107.50,302.16 L108.00,299.70 L108.50,298.26 L109.00,297.66 L109.50,297.68 L110.00,299.44 L110.50,301.62 L111.00,303.40 L111.50,303.84 L112.00,301.89 L112.50,300.43 L113.00,300.00 L113.50,299.39 L114.00,300.32 L114.50,301.54 L115.00,303.24 L115.50,303.96 L116.00,304.36 L116.50,304.56 L117.00,304.24 L117.50,303.05 L118.00,300.05 L118.50,298.43 L119.00,298.69 L119.50,299.10 L120.00,300.55 L120.50,302.91 L120.50,305.50 Z" fill="#6b4312" />
<line x1="128.50" y1="305.50" x2="132.80" y2="305.50" stroke="#6b4a20" stroke-width="0.9" />
<line x1="44.30" y1="320.50" x2="72.00" y2="320.50" stroke="#2c4b8b" stroke-width="0.9" />
<line x1="83.00" y1="320.50" x2="135.40" y2="320.50" stroke="#2c4b8b" stroke-width="0.9" />
<path d="M57.00,320.50 L57.00,320.03 L57.50,320.01 L58.00,319.98 L58.50,320.15 L59.00,319.59 L59.50,319.20 L60.00,318.72 L60.50,318.16 L61.00,318.34 L61.50,318.42 L62.00,318.49 L62.50,318.70 L63.00,318.88 L63.50,318.81 L64.00,318.23 L64.50,317.55 L65.00,317.12 L65.50,316.19 L66.00,315.04 L66.50,313.54 L67.00,311.85 L67.50,311.23 L68.00,311.85 L68.50,313.80 L69.00,315.95 L69.50,318.21 L70.00,319.18 L70.50,320.00 L71.00,320.29 L71.50,320.01 L71.50,320.50 Z" fill="#2c4b8b" />
<line x1="76.15" y1="323.20" x2="77.75" y2="319.20" stroke="#23283e" stroke-width="1.05" />
<line x1="78.25" y1="323.20" x2="79.85" y2="319.20" stroke="#23283e" stroke-width="1.05" />
<path d="M88.50,320.50 L88.50,315.43 L89.00,312.72 L89.50,309.11 L90.00,305.29 L90.50,304.84 L91.00,306.41 L91.50,309.49 L92.00,310.53 L92.50,311.76 L93.00,313.01 L93.50,314.21 L94.00,315.16 L94.50,315.22 L95.00,315.84 L95.50,315.77 L96.00,316.21 L96.50,315.93 L97.00,315.69 L97.50,314.41 L98.00,313.83 L98.50,313.60 L99.00,312.62 L99.50,313.44 L100.00,313.81 L100.50,314.50 L101.00,314.34 L101.50,313.19 L102.00,312.94 L102.50,312.78 L103.00,312.88 L103.50,313.95 L104.00,314.12 L104.50,315.10 L105.00,313.85 L105.50,314.20 L106.00,313.10 L106.50,313.62 L107.00,314.77 L107.50,315.21 L108.00,315.88 L108.50,316.13 L109.00,316.27 L109.50,316.13 L110.00,315.51 L110.50,315.50 L111.00,315.57 L111.50,316.40 L112.00,316.21 L112.50,315.60 L113.00,316.44 L113.50,315.77 L114.00,316.21 L114.50,315.52 L115.00,316.48 L115.50,315.69 L116.00,316.16 L116.50,316.36 L117.00,316.50 L117.50,315.67 L118.00,315.97 L118.50,316.31 L119.00,316.06 L119.50,315.59 L119.50,320.50 Z" fill="#2c4b8b" />
<line x1="69.40" y1="322.00" x2="69.40" y2="330.60" stroke="#d4107a" stroke-width="0.9" />
<line x1="69.40" y1="326.50" x2="88.50" y2="326.50" stroke="#d4107a" stroke-width="0.9" />
<line x1="76.15" y1="329.20" x2="77.75" y2="325.20" stroke="#d4107a" stroke-width="1.05" />
<line x1="78.25" y1="329.20" x2="79.85" y2="325.20" stroke="#d4107a" stroke-width="1.05" />
<rect x="89.00" y="322.00" width="3.00" height="11.00" fill="#d4107a" />
<text x="45.00" y="339.22" font-size="5.6" fill="#c0206a" text-anchor="start" font-weight="normal" textLength="8.70" lengthAdjust="spacingAndGlyphs">Tal1</text>
<rect x="58.20" y="334.60" width="11.60" height="5.00" fill="#63ad45" />
<line x1="69.80" y1="337.20" x2="88.50" y2="337.20" stroke="#2c4b8b" stroke-width="0.9" />
<line x1="76.15" y1="339.90" x2="77.75" y2="335.90" stroke="#2c4b8b" stroke-width="1.05" />
<line x1="78.25" y1="339.90" x2="79.85" y2="335.90" stroke="#2c4b8b" stroke-width="1.05" />
<rect x="88.50" y="332.70" width="31.10" height="9.10" fill="#2c4b8b" />
<line x1="119.60" y1="337.20" x2="135.40" y2="337.20" stroke="#3a4670" stroke-width="1.0" />
<polyline points="125.30,333.90 129.00,337.20 125.30,340.50" fill="none" stroke="#263058" stroke-width="1.5"/>
<line x1="156.70" y1="283.80" x2="156.70" y2="332.30" stroke="#d4d4d4" stroke-width="0.9" />
<text x="155.00" y="293.72" font-size="3.4" fill="#9a9a9a" text-anchor="end" font-weight="normal">100</text>
<text x="155.00" y="305.72" font-size="3.4" fill="#9a9a9a" text-anchor="end" font-weight="normal">1</text>
<text x="155.00" y="308.22" font-size="3.4" fill="#9a9a9a" text-anchor="end" font-weight="normal">1000</text>
<text x="155.00" y="321.52" font-size="3.4" fill="#9a9a9a" text-anchor="end" font-weight="normal">1</text>
<text x="174.00" y="281.92" font-size="5.6" fill="#222" text-anchor="start" font-weight="normal" textLength="9.80" lengthAdjust="spacingAndGlyphs">2 kb</text>
<line x1="187.00" y1="279.90" x2="216.80" y2="279.90" stroke="#222" stroke-width="1.0" />
<line x1="187.00" y1="278.60" x2="187.00" y2="281.20" stroke="#222" stroke-width="1.0" />
<line x1="216.80" y1="278.60" x2="216.80" y2="281.20" stroke="#222" stroke-width="1.0" />
<line x1="157.00" y1="305.50" x2="190.00" y2="305.50" stroke="#9a7a50" stroke-width="0.8" />
<path d="M160.00,305.50 L160.00,305.17 L160.50,304.96 L161.00,305.22 L161.50,305.19 L162.00,304.84 L162.50,304.87 L163.00,305.18 L163.50,305.25 L164.00,305.25 L164.50,304.93 L165.00,304.97 L165.50,304.82 L166.00,303.97 L166.50,302.54 L167.00,301.79 L167.50,301.61 L168.00,301.86 L168.50,302.78 L169.00,304.06 L169.50,304.54 L170.00,305.02 L170.50,304.87 L171.00,305.27 L171.50,304.81 L172.00,304.95 L172.50,303.17 L173.00,298.43 L173.50,293.04 L174.00,290.94 L174.50,290.30 L175.00,292.27 L175.50,297.20 L176.00,302.85 L176.50,304.89 L177.00,304.34 L177.50,303.28 L178.00,302.06 L178.50,301.58 L179.00,301.53 L179.50,302.52 L180.00,302.41 L180.50,301.55 L181.00,301.00 L181.50,301.28 L182.00,301.77 L182.50,303.48 L183.00,304.56 L183.50,305.10 L184.00,304.87 L184.50,304.90 L185.00,303.53 L185.50,301.65 L186.00,299.74 L186.50,299.53 L187.00,300.34 L187.50,302.32 L188.00,304.31 L188.50,304.93 L189.00,305.29 L189.50,304.72 L190.00,305.17 L190.00,305.50 Z" fill="#6b4312" />
<line x1="200.15" y1="308.20" x2="201.75" y2="304.20" stroke="#23283e" stroke-width="1.05" />
<line x1="202.25" y1="308.20" x2="203.85" y2="304.20" stroke="#23283e" stroke-width="1.05" />
<path d="M217.10,305.50 L217.10,303.36 L217.60,303.20 L218.10,302.81 L218.60,302.15 L219.10,302.63 L219.60,302.75 L220.10,302.61 L220.60,303.22 L221.10,303.48 L221.60,303.09 L222.10,303.01 L222.60,302.88 L223.10,302.55 L223.60,302.82 L224.10,302.24 L224.60,302.44 L225.10,303.09 L225.60,303.22 L226.10,303.08 L226.60,303.09 L227.10,303.14 L227.60,303.05 L228.10,302.61 L228.60,302.61 L229.10,302.24 L229.60,302.16 L230.10,302.89 L230.60,302.82 L231.10,302.87 L231.60,303.33 L232.10,302.81 L232.60,302.58 L233.10,302.77 L233.60,302.60 L234.10,302.26 L234.60,302.56 L235.10,302.78 L235.60,302.46 L236.10,302.48 L236.60,302.54 L237.10,302.35 L237.60,302.21 L238.10,302.34 L238.60,302.31 L239.10,302.75 L239.60,302.88 L239.60,305.50 Z" fill="#6b4312" />
<line x1="240.00" y1="305.30" x2="249.00" y2="305.30" stroke="#b8a080" stroke-width="0.9" />
<line x1="160.50" y1="320.30" x2="196.80" y2="320.30" stroke="#2c4b8b" stroke-width="0.9" />
<path d="M168.00,320.30 L168.00,319.54 L168.50,319.43 L169.00,319.73 L169.50,319.17 L170.00,318.50 L170.50,318.02 L171.00,317.94 L171.50,317.45 L172.00,317.13 L172.50,317.32 L173.00,317.37 L173.50,317.79 L174.00,317.58 L174.50,317.35 L175.00,317.35 L175.50,317.01 L176.00,316.44 L176.50,316.75 L177.00,317.07 L177.50,317.76 L178.00,318.06 L178.50,318.17 L179.00,318.01 L179.50,318.08 L180.00,317.15 L180.50,316.90 L181.00,316.48 L181.50,316.91 L182.00,317.24 L182.50,317.61 L183.00,318.27 L183.50,318.69 L184.00,318.38 L184.50,318.01 L185.00,317.15 L185.50,317.09 L186.00,316.91 L186.50,316.90 L187.00,317.70 L187.50,318.05 L188.00,318.44 L188.50,319.18 L189.00,319.64 L189.50,319.69 L190.00,319.73 L190.50,319.99 L191.00,320.02 L191.00,320.30 Z" fill="#2c4b8b" />
<line x1="200.15" y1="323.00" x2="201.75" y2="319.00" stroke="#23283e" stroke-width="1.05" />
<line x1="202.25" y1="323.00" x2="203.85" y2="319.00" stroke="#23283e" stroke-width="1.05" />
<line x1="208.60" y1="320.30" x2="211.70" y2="320.30" stroke="#2c4b8b" stroke-width="0.9" />
<line x1="217.00" y1="320.30" x2="249.00" y2="320.30" stroke="#2c4b8b" stroke-width="0.9" />
<path d="M217.30,320.30 L217.30,316.87 L217.80,316.71 L218.30,316.59 L218.80,316.71 L219.30,316.76 L219.80,316.91 L220.30,316.45 L220.80,316.16 L221.30,316.38 L221.80,316.36 L222.30,316.03 L222.80,315.80 L223.30,314.09 L223.80,312.87 L224.30,311.11 L224.80,308.74 L225.30,306.52 L225.80,305.94 L226.30,307.03 L226.80,308.31 L227.30,309.27 L227.80,311.16 L228.30,312.59 L228.80,313.82 L229.30,313.52 L229.80,313.24 L230.30,314.58 L230.80,315.15 L231.30,315.91 L231.80,316.50 L232.30,315.94 L232.80,316.61 L233.30,315.96 L233.80,316.13 L234.30,315.47 L234.80,313.75 L235.30,313.40 L235.80,313.08 L236.30,311.34 L236.80,308.74 L237.30,306.16 L237.80,306.74 L238.30,308.63 L238.80,310.49 L239.30,313.18 L239.80,315.61 L239.80,320.30 Z" fill="#2c4b8b" />
<rect x="173.10" y="322.00" width="3.30" height="9.00" fill="#d4107a" />
<text x="144.90" y="339.22" font-size="5.6" fill="#c0206a" text-anchor="start" font-weight="normal" textLength="16.10" lengthAdjust="spacingAndGlyphs">Bcl11a</text>
<rect x="163.00" y="334.60" width="23.40" height="5.10" fill="#63ad45" />
<rect x="186.40" y="332.70" width="3.20" height="9.10" fill="#2c4b8b" />
<line x1="189.60" y1="337.30" x2="217.50" y2="337.30" stroke="#2c4b8b" stroke-width="0.9" />
<line x1="200.15" y1="340.00" x2="201.75" y2="336.00" stroke="#2c4b8b" stroke-width="1.05" />
<line x1="202.25" y1="340.00" x2="203.85" y2="336.00" stroke="#2c4b8b" stroke-width="1.05" />
<rect x="217.50" y="332.70" width="22.50" height="8.80" fill="#2c4b8b" />
<line x1="240.00" y1="337.20" x2="249.00" y2="337.20" stroke="#3a4670" stroke-width="1.0" />
<polyline points="242.50,333.80 246.70,337.20 242.50,340.60" fill="none" stroke="#263058" stroke-width="1.5"/>
<text x="265.00" y="275.78" font-size="11.0" font-weight="bold" fill="#000">F</text>
<text x="266.90" y="299.62" font-size="5.6" fill="#5e4a2a" text-anchor="start" font-weight="normal" textLength="20.60" lengthAdjust="spacingAndGlyphs">Ribo-seq</text>
<text x="266.90" y="314.32" font-size="5.6" fill="#3a4a78" text-anchor="start" font-weight="normal" textLength="21.10" lengthAdjust="spacingAndGlyphs">RNA-seq</text>
<text x="266.90" y="329.32" font-size="5.6" fill="#c8207a" text-anchor="start" font-weight="normal" textLength="11.80" lengthAdjust="spacingAndGlyphs">uORF</text>
<text x="274.50" y="339.42" font-size="5.6" fill="#a8204e" text-anchor="start" font-weight="normal" textLength="19.80" lengthAdjust="spacingAndGlyphs">Gabarap</text>
<line x1="296.60" y1="278.00" x2="296.60" y2="342.50" stroke="#d8d0bf" stroke-width="0.9" />
<text x="294.80" y="291.22" font-size="3.4" fill="#9a9a9a" text-anchor="end" font-weight="normal">1000</text>
<text x="294.80" y="304.22" font-size="3.4" fill="#9a9a9a" text-anchor="end" font-weight="normal">1</text>
<text x="294.80" y="306.82" font-size="3.4" fill="#9a9a9a" text-anchor="end" font-weight="normal">1000</text>
<text x="294.80" y="320.62" font-size="3.4" fill="#9a9a9a" text-anchor="end" font-weight="normal">1</text>
<text x="311.00" y="281.52" font-size="5.6" fill="#222" text-anchor="start" font-weight="normal" textLength="13.50" lengthAdjust="spacingAndGlyphs">0.5 kb</text>
<line x1="327.60" y1="279.40" x2="358.10" y2="279.40" stroke="#222" stroke-width="1.0" />
<line x1="327.60" y1="278.10" x2="327.60" y2="280.70" stroke="#222" stroke-width="1.0" />
<line x1="358.10" y1="278.10" x2="358.10" y2="280.70" stroke="#222" stroke-width="1.0" />
<line x1="297.00" y1="303.60" x2="322.00" y2="303.60" stroke="#8a8a8a" stroke-width="0.8" stroke-dasharray="3.5,1.3"/>
<path d="M330.00,303.60 L330.00,302.81 L330.50,302.54 L331.00,301.77 L331.50,301.03 L332.00,300.26 L332.50,299.67 L333.00,298.44 L333.50,296.13 L334.00,294.98 L334.50,296.12 L335.00,298.38 L335.50,299.18 L336.00,298.92 L336.50,298.49 L337.00,299.59 L337.50,300.42 L338.00,302.10 L338.50,302.30 L339.00,302.66 L339.00,303.60 Z" fill="#6b4312" />
<line x1="341.50" y1="303.60" x2="345.00" y2="303.60" stroke="#9a9a9a" stroke-width="0.8" />
<line x1="354.00" y1="303.60" x2="357.50" y2="303.60" stroke="#9a9a9a" stroke-width="0.8" />
<path d="M372.60,303.60 L372.60,301.84 L373.00,301.21 L373.40,301.10 L373.80,300.98 L374.20,300.76 L374.60,300.91 L375.00,301.33 L375.40,301.35 L375.80,300.01 L376.20,297.14 L376.60,294.17 L377.00,294.47 L377.40,297.31 L377.80,300.25 L377.80,303.60 Z" fill="#6b4312" />
<path d="M385.20,303.60 L385.20,300.34 L385.60,299.92 L386.00,298.75 L386.40,297.58 L386.80,296.58 L387.20,295.33 L387.60,293.92 L388.00,291.12 L388.40,287.51 L388.80,284.46 L389.20,285.35 L389.60,289.92 L390.00,293.39 L390.40,295.20 L390.80,293.57 L391.20,292.30 L391.60,292.92 L392.00,295.98 L392.40,298.33 L392.80,299.47 L392.80,303.60 Z" fill="#6b4312" />
<line x1="377.80" y1="303.60" x2="385.20" y2="303.60" stroke="#9a9a9a" stroke-width="0.8" />
<line x1="297.00" y1="320.00" x2="372.80" y2="320.00" stroke="#a4aab4" stroke-width="0.8" />
<polygon points="331.90,320.00 338.90,303.60 338.90,320.00" fill="#2c4b8b" />
<polygon points="372.80,320.00 372.80,303.60 374.20,303.60 377.00,317.50 377.60,320.00" fill="#2c4b8b" />
<polygon points="385.20,320.00 385.20,303.60 385.70,303.60 386.40,318.00 387.60,309.00 389.30,303.60 392.90,303.60 392.90,320.00" fill="#2c4b8b" />
<line x1="377.60" y1="320.00" x2="385.20" y2="320.00" stroke="#a4aab4" stroke-width="0.8" />
<rect x="325.60" y="322.50" width="13.00" height="8.50" fill="#d4107a" />
<line x1="338.60" y1="326.80" x2="372.60" y2="326.80" stroke="#d84a98" stroke-width="1.0" />
<rect x="372.60" y="322.50" width="5.00" height="8.50" fill="#d4107a" />
<line x1="377.60" y1="326.80" x2="385.30" y2="326.80" stroke="#d84a98" stroke-width="1.0" />
<rect x="385.30" y="322.50" width="7.30" height="8.50" fill="#d4107a" />
<rect x="299.90" y="335.10" width="33.70" height="4.50" fill="#63ad45" />
<rect x="333.60" y="333.00" width="5.00" height="8.60" fill="#2c4b8b" />
<line x1="338.60" y1="337.00" x2="372.60" y2="337.00" stroke="#7080a0" stroke-width="1.3" />
<polyline points="354.30,333.60 357.60,337.00 354.30,340.40" fill="none" stroke="#263058" stroke-width="1.5"/>
<rect x="372.60" y="333.00" width="5.00" height="8.60" fill="#2c4b8b" />
<line x1="377.60" y1="337.20" x2="385.30" y2="337.20" stroke="#5a6f9a" stroke-width="0.9" />
<rect x="385.30" y="333.00" width="7.30" height="8.60" fill="#2c4b8b" />
<line x1="325.70" y1="290.30" x2="325.70" y2="346.00" stroke="#a8103a" stroke-width="1.3" stroke-dasharray="1.6,2.7"/>
<line x1="333.90" y1="290.30" x2="333.90" y2="346.00" stroke="#a8103a" stroke-width="1.3" stroke-dasharray="1.6,2.7"/>
<text x="323.40" y="351.80" font-size="3.9" fill="#6a1a28" text-anchor="middle" font-weight="normal" textLength="9.20" lengthAdjust="spacingAndGlyphs">AUG</text>
<text x="336.50" y="351.80" font-size="3.9" fill="#6a1a28" text-anchor="middle" font-weight="normal" textLength="9.20" lengthAdjust="spacingAndGlyphs">AUG</text>
<line x1="414.70" y1="276.80" x2="414.70" y2="342.90" stroke="#d8d0bf" stroke-width="0.9" />
<text x="413.00" y="291.92" font-size="3.4" fill="#9a9a9a" text-anchor="end" font-weight="normal">20</text>
<text x="413.00" y="302.62" font-size="3.4" fill="#9a9a9a" text-anchor="end" font-weight="normal">1</text>
<text x="413.00" y="306.82" font-size="3.4" fill="#9a9a9a" text-anchor="end" font-weight="normal">100</text>
<text x="413.00" y="320.42" font-size="3.4" fill="#9a9a9a" text-anchor="end" font-weight="normal">1</text>
<text x="440.00" y="281.32" font-size="5.6" fill="#222" text-anchor="start" font-weight="normal" textLength="14.50" lengthAdjust="spacingAndGlyphs">0.2 kb</text>
<line x1="457.00" y1="279.40" x2="484.00" y2="279.40" stroke="#222" stroke-width="1.0" />
<line x1="457.00" y1="278.10" x2="457.00" y2="280.70" stroke="#222" stroke-width="1.0" />
<line x1="484.00" y1="278.10" x2="484.00" y2="280.70" stroke="#222" stroke-width="1.0" />
<path d="M429.40,303.10 L429.40,300.71 L429.90,299.62 L430.40,297.89 L430.90,296.66 L431.40,295.48 L431.90,295.19 L432.40,295.27 L432.90,294.98 L433.40,295.56 L433.90,296.23 L434.40,297.26 L434.90,298.82 L435.40,299.93 L435.90,300.16 L436.40,300.06 L436.90,299.15 L437.40,299.04 L437.90,299.08 L438.40,299.40 L438.90,299.41 L439.40,299.90 L439.90,300.46 L440.40,300.96 L440.90,300.89 L441.40,300.60 L441.90,300.36 L442.40,299.77 L442.90,299.29 L443.40,298.95 L443.90,299.43 L444.40,299.53 L444.90,299.87 L445.40,300.96 L445.90,301.27 L446.40,300.93 L446.90,300.93 L447.40,300.59 L447.90,299.33 L448.40,296.15 L448.90,293.36 L449.40,291.14 L449.90,290.10 L450.40,290.03 L450.90,290.49 L451.40,291.60 L451.90,293.64 L452.40,296.42 L452.90,299.05 L453.40,300.80 L453.90,301.23 L454.40,300.34 L454.90,298.40 L455.40,295.27 L455.90,291.39 L456.40,289.46 L456.90,289.16 L457.40,288.87 L457.90,289.11 L458.40,291.31 L458.90,294.30 L459.40,298.24 L459.90,300.27 L460.40,300.60 L460.90,300.38 L461.40,299.23 L461.90,298.29 L462.40,297.18 L462.90,296.80 L463.40,296.96 L463.90,296.81 L464.40,297.45 L464.90,298.22 L465.40,299.79 L465.90,300.84 L466.40,301.45 L466.90,301.53 L467.40,301.12 L467.90,301.58 L468.40,301.58 L468.90,301.53 L469.40,301.28 L469.90,301.07 L470.40,301.18 L470.90,300.89 L471.40,300.92 L471.90,299.98 L472.40,298.06 L472.90,296.97 L473.40,295.70 L473.90,295.50 L474.40,295.53 L474.90,295.49 L475.40,295.89 L475.90,296.11 L476.40,297.60 L476.90,299.22 L477.40,300.32 L477.90,301.04 L478.40,301.53 L478.90,301.01 L479.40,301.24 L479.90,300.96 L480.40,301.24 L480.90,300.76 L481.40,300.19 L481.90,299.00 L482.40,296.92 L482.90,295.88 L483.40,295.74 L483.90,295.22 L484.40,295.31 L484.90,295.99 L485.40,296.64 L485.90,297.76 L486.40,299.53 L486.90,300.26 L487.40,301.21 L487.90,301.09 L488.40,300.60 L488.90,300.67 L489.40,300.47 L489.90,300.04 L490.40,300.32 L490.90,300.20 L491.40,300.81 L491.90,301.17 L492.40,301.27 L492.90,301.49 L493.40,300.97 L493.90,301.45 L494.40,301.26 L494.90,301.57 L495.40,301.28 L495.90,301.38 L495.90,303.10 Z" fill="#6b4312" />
<path d="M429.40,318.90 L429.40,311.84 L429.90,312.31 L430.40,312.23 L430.90,311.24 L431.40,311.91 L431.90,312.06 L432.40,312.13 L432.90,312.00 L433.40,312.07 L433.90,312.35 L434.40,311.47 L434.90,311.92 L435.40,312.18 L435.90,311.41 L436.40,312.26 L436.90,311.99 L437.40,311.14 L437.90,312.00 L438.40,311.37 L438.90,310.57 L439.40,310.39 L439.90,311.18 L440.40,310.96 L440.90,310.63 L441.40,311.37 L441.90,310.77 L442.40,311.97 L442.90,311.01 L443.40,311.68 L443.90,312.08 L444.40,311.77 L444.90,312.22 L445.40,311.41 L445.90,312.03 L446.40,311.14 L446.90,311.57 L447.40,311.86 L447.90,311.95 L448.40,311.22 L448.90,311.34 L449.40,309.90 L449.90,310.64 L450.40,310.23 L450.90,310.67 L451.40,313.76 L451.90,313.38 L452.40,314.07 L452.90,313.75 L453.40,313.90 L453.90,314.28 L454.40,314.19 L454.90,314.64 L455.40,314.53 L455.90,313.60 L456.40,314.37 L456.90,313.91 L457.40,314.70 L457.90,314.09 L458.40,314.39 L458.90,314.22 L459.40,314.52 L459.90,314.86 L460.40,314.54 L460.90,314.68 L461.40,314.84 L461.90,314.03 L462.40,314.66 L462.90,314.51 L463.40,313.82 L463.90,314.03 L464.40,313.90 L464.90,313.95 L465.40,314.99 L465.90,314.81 L466.40,315.17 L466.90,314.28 L467.40,314.33 L467.90,314.78 L468.40,314.72 L468.90,314.39 L469.40,314.36 L469.90,315.01 L470.40,314.19 L470.90,314.90 L471.40,314.54 L471.90,315.18 L472.40,315.29 L472.90,314.20 L473.40,314.75 L473.90,315.12 L474.40,316.40 L474.90,316.74 L475.40,316.91 L475.90,317.20 L476.40,317.40 L476.90,317.63 L477.40,318.45 L477.90,318.41 L478.40,318.30 L478.90,318.90 L478.90,318.90 Z" fill="#2c4b8b" />
<line x1="479.00" y1="318.90" x2="489.00" y2="318.90" stroke="#9aa0a8" stroke-width="1.0" />
<line x1="495.00" y1="318.90" x2="498.00" y2="318.90" stroke="#9aa0a8" stroke-width="1.0" />
<line x1="414.70" y1="319.20" x2="419.70" y2="319.20" stroke="#9aa0a8" stroke-width="1.0" />
<line x1="414.70" y1="325.10" x2="429.40" y2="325.10" stroke="#d84a98" stroke-width="1.0" />
<rect x="429.40" y="320.90" width="67.40" height="9.40" fill="#d4107a" />
<rect x="429.40" y="332.00" width="46.20" height="8.80" fill="#2c4b8b" />
<rect x="475.60" y="333.60" width="25.10" height="5.10" fill="#63ad45" />
<line x1="415.00" y1="336.40" x2="429.40" y2="336.40" stroke="#4a5a80" stroke-width="1.2" />
<polyline points="422.70,333.20 419.50,336.40 422.70,339.60" fill="none" stroke="#263058" stroke-width="1.5"/>
<text x="395.20" y="338.62" font-size="5.6" fill="#a8204e" text-anchor="start" font-weight="normal" textLength="16.10" lengthAdjust="spacingAndGlyphs">Pabpc1</text>
<line x1="475.60" y1="290.40" x2="475.60" y2="346.00" stroke="#a8103a" stroke-width="1.3" stroke-dasharray="1.6,2.7"/>
<line x1="496.80" y1="290.40" x2="496.80" y2="346.00" stroke="#a8103a" stroke-width="1.3" stroke-dasharray="1.6,2.7"/>
<text x="475.60" y="351.80" font-size="3.9" fill="#6a1a28" text-anchor="middle" font-weight="normal" textLength="9.20" lengthAdjust="spacingAndGlyphs">AUG</text>
<text x="496.80" y="351.80" font-size="3.9" fill="#6a1a28" text-anchor="middle" font-weight="normal" textLength="9.20" lengthAdjust="spacingAndGlyphs">AUG</text>
<text x="7.00" y="370.98" font-size="11.0" font-weight="bold" fill="#000">G</text>
<text x="36.90" y="374.97" font-size="7.7" fill="#222" text-anchor="start" font-weight="normal" textLength="122.90" lengthAdjust="spacingAndGlyphs">Stop codon readthrough mRNAs (117)</text>
<line x1="98.00" y1="379.50" x2="98.00" y2="443.70" stroke="#cfcfcf" stroke-width="1.3" />
<rect x="35.80" y="434.97" width="1.40" height="8.73" fill="#a8183c" stroke="#3a2a30" stroke-width="0.3"/>
<rect x="37.85" y="442.16" width="1.40" height="1.54" fill="#2f4c8c" stroke="#3a2a30" stroke-width="0.3"/>
<rect x="39.90" y="433.17" width="1.40" height="10.53" fill="#74b052" stroke="#3a2a30" stroke-width="0.3"/>
<rect x="41.95" y="435.48" width="1.40" height="8.22" fill="#a8183c" stroke="#3a2a30" stroke-width="0.3"/>
<rect x="44.00" y="435.48" width="1.40" height="8.22" fill="#2f4c8c" stroke="#3a2a30" stroke-width="0.3"/>
<rect x="46.05" y="440.36" width="1.40" height="3.34" fill="#74b052" stroke="#3a2a30" stroke-width="0.3"/>
<rect x="48.10" y="427.01" width="1.40" height="16.69" fill="#a8183c" stroke="#3a2a30" stroke-width="0.3"/>
<rect x="50.15" y="429.19" width="1.40" height="14.51" fill="#2f4c8c" stroke="#3a2a30" stroke-width="0.3"/>
<rect x="52.20" y="438.05" width="1.40" height="5.65" fill="#74b052" stroke="#3a2a30" stroke-width="0.3"/>
<rect x="54.25" y="418.41" width="1.40" height="25.29" fill="#a8183c" stroke="#3a2a30" stroke-width="0.3"/>
<rect x="56.30" y="439.98" width="1.40" height="3.72" fill="#2f4c8c" stroke="#3a2a30" stroke-width="0.3"/>
<rect x="58.35" y="442.16" width="1.40" height="1.54" fill="#74b052" stroke="#3a2a30" stroke-width="0.3"/>
<rect x="60.40" y="437.54" width="1.40" height="6.16" fill="#a8183c" stroke="#3a2a30" stroke-width="0.3"/>
<rect x="62.45" y="435.35" width="1.40" height="8.35" fill="#2f4c8c" stroke="#3a2a30" stroke-width="0.3"/>
<rect x="64.50" y="437.28" width="1.40" height="6.42" fill="#74b052" stroke="#3a2a30" stroke-width="0.3"/>
<rect x="66.55" y="442.16" width="1.40" height="1.54" fill="#a8183c" stroke="#3a2a30" stroke-width="0.3"/>
<rect x="68.60" y="439.98" width="1.40" height="3.72" fill="#2f4c8c" stroke="#3a2a30" stroke-width="0.3"/>
<rect x="70.65" y="440.49" width="1.40" height="3.21" fill="#74b052" stroke="#3a2a30" stroke-width="0.3"/>
<rect x="72.70" y="442.93" width="1.40" height="0.77" fill="#a8183c" stroke="#3a2a30" stroke-width="0.3"/>
<rect x="74.75" y="440.49" width="1.40" height="3.21" fill="#2f4c8c" stroke="#3a2a30" stroke-width="0.3"/>
<rect x="76.80" y="435.48" width="1.40" height="8.22" fill="#74b052" stroke="#3a2a30" stroke-width="0.3"/>
<rect x="78.85" y="440.49" width="1.40" height="3.21" fill="#a8183c" stroke="#3a2a30" stroke-width="0.3"/>
<rect x="80.90" y="442.93" width="1.40" height="0.77" fill="#2f4c8c" stroke="#3a2a30" stroke-width="0.3"/>
<rect x="82.95" y="442.16" width="1.40" height="1.54" fill="#74b052" stroke="#3a2a30" stroke-width="0.3"/>
<rect x="85.00" y="439.85" width="1.40" height="3.85" fill="#a8183c" stroke="#3a2a30" stroke-width="0.3"/>
<rect x="87.05" y="442.16" width="1.40" height="1.54" fill="#2f4c8c" stroke="#3a2a30" stroke-width="0.3"/>
<rect x="89.10" y="439.98" width="1.40" height="3.72" fill="#74b052" stroke="#3a2a30" stroke-width="0.3"/>
<rect x="91.15" y="443.19" width="1.40" height="0.51" fill="#a8183c" stroke="#3a2a30" stroke-width="0.3"/>
<rect x="93.20" y="443.19" width="1.40" height="0.51" fill="#2f4c8c" stroke="#3a2a30" stroke-width="0.3"/>
<rect x="95.25" y="437.41" width="1.40" height="6.29" fill="#74b052" stroke="#3a2a30" stroke-width="0.3"/>
<rect x="97.30" y="438.95" width="1.40" height="4.75" fill="#a8183c" stroke="#3a2a30" stroke-width="0.3"/>
<rect x="99.35" y="435.48" width="1.40" height="8.22" fill="#2f4c8c" stroke="#3a2a30" stroke-width="0.3"/>
<rect x="101.40" y="437.67" width="1.40" height="6.03" fill="#74b052" stroke="#3a2a30" stroke-width="0.3"/>
<rect x="103.45" y="437.67" width="1.40" height="6.03" fill="#a8183c" stroke="#3a2a30" stroke-width="0.3"/>
<rect x="105.50" y="438.05" width="1.40" height="5.65" fill="#2f4c8c" stroke="#3a2a30" stroke-width="0.3"/>
<rect x="107.55" y="443.19" width="1.40" height="0.51" fill="#74b052" stroke="#3a2a30" stroke-width="0.3"/>
<rect x="111.65" y="443.19" width="1.40" height="0.51" fill="#2f4c8c" stroke="#3a2a30" stroke-width="0.3"/>
<rect x="115.75" y="433.43" width="1.40" height="10.27" fill="#a8183c" stroke="#3a2a30" stroke-width="0.3"/>
<rect x="117.80" y="435.48" width="1.40" height="8.22" fill="#2f4c8c" stroke="#3a2a30" stroke-width="0.3"/>
<rect x="119.85" y="443.19" width="1.40" height="0.51" fill="#74b052" stroke="#3a2a30" stroke-width="0.3"/>
<rect x="121.90" y="439.85" width="1.40" height="3.85" fill="#a8183c" stroke="#3a2a30" stroke-width="0.3"/>
<rect x="123.95" y="439.85" width="1.40" height="3.85" fill="#2f4c8c" stroke="#3a2a30" stroke-width="0.3"/>
<rect x="126.00" y="443.19" width="1.40" height="0.51" fill="#74b052" stroke="#3a2a30" stroke-width="0.3"/>
<rect x="128.05" y="433.43" width="1.40" height="10.27" fill="#a8183c" stroke="#3a2a30" stroke-width="0.3"/>
<rect x="130.10" y="439.85" width="1.40" height="3.85" fill="#2f4c8c" stroke="#3a2a30" stroke-width="0.3"/>
<rect x="132.15" y="442.16" width="1.40" height="1.54" fill="#74b052" stroke="#3a2a30" stroke-width="0.3"/>
<rect x="134.20" y="442.42" width="1.40" height="1.28" fill="#a8183c" stroke="#3a2a30" stroke-width="0.3"/>
<rect x="138.30" y="443.19" width="1.40" height="0.51" fill="#74b052" stroke="#3a2a30" stroke-width="0.3"/>
<rect x="140.35" y="442.16" width="1.40" height="1.54" fill="#a8183c" stroke="#3a2a30" stroke-width="0.3"/>
<rect x="144.45" y="443.19" width="1.40" height="0.51" fill="#74b052" stroke="#3a2a30" stroke-width="0.3"/>
<rect x="146.50" y="442.16" width="1.40" height="1.54" fill="#a8183c" stroke="#3a2a30" stroke-width="0.3"/>
<rect x="148.55" y="439.85" width="1.40" height="3.85" fill="#2f4c8c" stroke="#3a2a30" stroke-width="0.3"/>
<rect x="150.60" y="441.13" width="1.40" height="2.57" fill="#74b052" stroke="#3a2a30" stroke-width="0.3"/>
<rect x="152.65" y="439.85" width="1.40" height="3.85" fill="#a8183c" stroke="#3a2a30" stroke-width="0.3"/>
<rect x="154.70" y="442.16" width="1.40" height="1.54" fill="#2f4c8c" stroke="#3a2a30" stroke-width="0.3"/>
<rect x="156.75" y="439.85" width="1.40" height="3.85" fill="#74b052" stroke="#3a2a30" stroke-width="0.3"/>
<rect x="158.80" y="439.85" width="1.40" height="3.85" fill="#a8183c" stroke="#3a2a30" stroke-width="0.3"/>
<rect x="30.5" y="379.5" width="134.9" height="64.2" fill="none" stroke="#111" stroke-width="1.1"/>
<line x1="28.00" y1="443.70" x2="30.50" y2="443.70" stroke="#111" stroke-width="1" />
<text x="25.60" y="445.64" font-size="5.4" fill="#333" text-anchor="end" font-weight="normal" textLength="7.40" lengthAdjust="spacingAndGlyphs">0.0</text>
<line x1="28.00" y1="430.86" x2="30.50" y2="430.86" stroke="#111" stroke-width="1" />
<text x="25.60" y="432.80" font-size="5.4" fill="#333" text-anchor="end" font-weight="normal" textLength="7.40" lengthAdjust="spacingAndGlyphs">0.1</text>
<line x1="28.00" y1="418.02" x2="30.50" y2="418.02" stroke="#111" stroke-width="1" />
<text x="25.60" y="419.96" font-size="5.4" fill="#333" text-anchor="end" font-weight="normal" textLength="7.40" lengthAdjust="spacingAndGlyphs">0.2</text>
<line x1="28.00" y1="405.18" x2="30.50" y2="405.18" stroke="#111" stroke-width="1" />
<text x="25.60" y="407.12" font-size="5.4" fill="#333" text-anchor="end" font-weight="normal" textLength="7.40" lengthAdjust="spacingAndGlyphs">0.3</text>
<line x1="28.00" y1="392.34" x2="30.50" y2="392.34" stroke="#111" stroke-width="1" />
<text x="25.60" y="394.28" font-size="5.4" fill="#333" text-anchor="end" font-weight="normal" textLength="7.40" lengthAdjust="spacingAndGlyphs">0.4</text>
<line x1="28.00" y1="379.50" x2="30.50" y2="379.50" stroke="#111" stroke-width="1" />
<text x="25.60" y="381.44" font-size="5.4" fill="#333" text-anchor="end" font-weight="normal" textLength="7.40" lengthAdjust="spacingAndGlyphs">0.5</text>
<line x1="36.50" y1="443.70" x2="36.50" y2="446.20" stroke="#111" stroke-width="1" />
<text x="35.80" y="454.64" font-size="5.4" fill="#333" text-anchor="middle" font-weight="normal">-30</text>
<line x1="57.00" y1="443.70" x2="57.00" y2="446.20" stroke="#111" stroke-width="1" />
<text x="56.30" y="454.64" font-size="5.4" fill="#333" text-anchor="middle" font-weight="normal">-20</text>
<line x1="77.50" y1="443.70" x2="77.50" y2="446.20" stroke="#111" stroke-width="1" />
<text x="76.80" y="454.64" font-size="5.4" fill="#333" text-anchor="middle" font-weight="normal">-10</text>
<line x1="98.00" y1="443.70" x2="98.00" y2="446.20" stroke="#111" stroke-width="1" />
<text x="98.00" y="454.64" font-size="5.4" fill="#333" text-anchor="middle" font-weight="normal">0</text>
<line x1="118.50" y1="443.70" x2="118.50" y2="446.20" stroke="#111" stroke-width="1" />
<text x="118.50" y="454.64" font-size="5.4" fill="#333" text-anchor="middle" font-weight="normal">10</text>
<line x1="139.00" y1="443.70" x2="139.00" y2="446.20" stroke="#111" stroke-width="1" />
<text x="139.00" y="454.64" font-size="5.4" fill="#333" text-anchor="middle" font-weight="normal">20</text>
<line x1="159.50" y1="443.70" x2="159.50" y2="446.20" stroke="#111" stroke-width="1" />
<text x="159.50" y="454.64" font-size="5.4" fill="#333" text-anchor="middle" font-weight="normal">30</text>
<text x="98.00" y="464.78" font-size="8.0" fill="#222" text-anchor="middle" font-weight="normal" textLength="66.00" lengthAdjust="spacingAndGlyphs" stroke="#222" stroke-width="0.15">Distance from CDS end</text>
<text transform="translate(12.20,410.80) rotate(-90)" x="0" y="2.88" font-size="8.0" fill="#222" text-anchor="middle" font-weight="normal" textLength="57.50" lengthAdjust="spacingAndGlyphs" stroke="#222" stroke-width="0.15">Read density (RPM)</text>
<rect x="136.60" y="384.70" width="4.70" height="4.20" fill="#a8183c" />
<text x="144.00" y="388.46" font-size="4.6" fill="#111" text-anchor="start" font-weight="normal" textLength="15.80" lengthAdjust="spacingAndGlyphs">Frame 1</text>
<rect x="136.60" y="390.70" width="4.70" height="4.20" fill="#2f4c8c" />
<text x="144.00" y="394.46" font-size="4.6" fill="#111" text-anchor="start" font-weight="normal" textLength="15.80" lengthAdjust="spacingAndGlyphs">Frame 2</text>
<rect x="136.60" y="396.70" width="4.70" height="4.20" fill="#74b052" />
<text x="144.00" y="400.46" font-size="4.6" fill="#111" text-anchor="start" font-weight="normal" textLength="15.80" lengthAdjust="spacingAndGlyphs">Frame 3</text>
<rect x="199.70" y="392.26" width="6.10" height="51.74" fill="#b3002d" />
<rect x="205.80" y="413.59" width="5.30" height="30.41" fill="#2e4f8e" />
<rect x="211.10" y="419.40" width="5.80" height="24.60" fill="#6bab47" />
<line x1="195.40" y1="377.00" x2="195.40" y2="444.10" stroke="#111" stroke-width="1.1" />
<line x1="195.40" y1="444.00" x2="223.80" y2="444.00" stroke="#111" stroke-width="1.1" />
<line x1="220.90" y1="443.60" x2="220.90" y2="446.40" stroke="#111" stroke-width="1" />
<line x1="195.40" y1="443.60" x2="195.40" y2="446.40" stroke="#111" stroke-width="1" />
<line x1="192.80" y1="444.00" x2="195.40" y2="444.00" stroke="#111" stroke-width="1" />
<text x="190.10" y="445.94" font-size="5.4" fill="#333" text-anchor="end" font-weight="normal" textLength="7.40" lengthAdjust="spacingAndGlyphs">0.0</text>
<line x1="192.80" y1="433.44" x2="195.40" y2="433.44" stroke="#111" stroke-width="1" />
<text x="190.10" y="435.38" font-size="5.4" fill="#333" text-anchor="end" font-weight="normal" textLength="7.40" lengthAdjust="spacingAndGlyphs">0.1</text>
<line x1="192.80" y1="422.88" x2="195.40" y2="422.88" stroke="#111" stroke-width="1" />
<text x="190.10" y="424.82" font-size="5.4" fill="#333" text-anchor="end" font-weight="normal" textLength="7.40" lengthAdjust="spacingAndGlyphs">0.2</text>
<line x1="192.80" y1="412.32" x2="195.40" y2="412.32" stroke="#111" stroke-width="1" />
<text x="190.10" y="414.26" font-size="5.4" fill="#333" text-anchor="end" font-weight="normal" textLength="7.40" lengthAdjust="spacingAndGlyphs">0.3</text>
<line x1="192.80" y1="401.76" x2="195.40" y2="401.76" stroke="#111" stroke-width="1" />
<text x="190.10" y="403.70" font-size="5.4" fill="#333" text-anchor="end" font-weight="normal" textLength="7.40" lengthAdjust="spacingAndGlyphs">0.4</text>
<line x1="192.80" y1="391.20" x2="195.40" y2="391.20" stroke="#111" stroke-width="1" />
<text x="190.10" y="393.14" font-size="5.4" fill="#333" text-anchor="end" font-weight="normal" textLength="7.40" lengthAdjust="spacingAndGlyphs">0.5</text>
<line x1="192.80" y1="380.64" x2="195.40" y2="380.64" stroke="#111" stroke-width="1" />
<text x="190.10" y="382.58" font-size="5.4" fill="#333" text-anchor="end" font-weight="normal" textLength="7.40" lengthAdjust="spacingAndGlyphs">0.6</text>
<text transform="translate(175.20,413.20) rotate(-90)" x="0" y="2.88" font-size="8.0" fill="#222" text-anchor="middle" font-weight="normal" textLength="45.70" lengthAdjust="spacingAndGlyphs" stroke="#222" stroke-width="0.15">Fraction of reads</text>
<text x="265.00" y="371.28" font-size="11.0" font-weight="bold" fill="#000">H</text>
<text x="267.70" y="407.82" font-size="5.6" fill="#5e4a2a" text-anchor="start" font-weight="normal" textLength="20.30" lengthAdjust="spacingAndGlyphs">Ribo-seq</text>
<text x="267.70" y="423.42" font-size="5.6" fill="#3a4a78" text-anchor="start" font-weight="normal" textLength="20.30" lengthAdjust="spacingAndGlyphs">RNA-seq</text>
<text x="278.40" y="437.82" font-size="5.6" fill="#a8204e" text-anchor="start" font-weight="normal" textLength="13.00" lengthAdjust="spacingAndGlyphs">Satb2</text>
<line x1="297.40" y1="387.00" x2="297.40" y2="440.50" stroke="#d8d0bf" stroke-width="0.9" />
<text x="295.60" y="400.42" font-size="3.4" fill="#9a9a9a" text-anchor="end" font-weight="normal">20</text>
<text x="295.60" y="413.22" font-size="3.4" fill="#9a9a9a" text-anchor="end" font-weight="normal">1</text>
<text x="295.60" y="415.82" font-size="3.4" fill="#9a9a9a" text-anchor="end" font-weight="normal">100</text>
<text x="295.60" y="428.72" font-size="3.4" fill="#9a9a9a" text-anchor="end" font-weight="normal">1</text>
<text x="319.30" y="390.12" font-size="5.6" fill="#222" text-anchor="start" font-weight="normal" textLength="12.70" lengthAdjust="spacingAndGlyphs">0.1kb</text>
<line x1="334.60" y1="388.10" x2="356.60" y2="388.10" stroke="#222" stroke-width="1.0" />
<line x1="334.60" y1="386.80" x2="334.60" y2="389.40" stroke="#222" stroke-width="1.0" />
<line x1="356.60" y1="386.80" x2="356.60" y2="389.40" stroke="#222" stroke-width="1.0" />
<circle cx="297.9" cy="412.9" r="0.9" fill="#333"/>
<path d="M313.40,413.00 L313.40,405.34 L313.93,404.74 L314.47,404.55 L315.00,403.75 L315.50,404.02 L316.00,404.35 L316.50,404.10 L317.00,403.83 L317.50,404.75 L318.00,404.78 L318.50,404.41 L319.00,404.29 L319.50,405.23 L320.00,405.11 L320.50,404.92 L321.00,405.49 L321.50,405.74 L322.00,406.79 L322.50,406.84 L323.00,408.16 L323.50,408.62 L324.00,408.59 L324.50,409.82 L325.00,410.14 L325.50,411.12 L326.00,411.83 L326.50,410.91 L327.00,410.34 L327.50,410.82 L328.00,409.92 L328.50,409.43 L329.00,408.19 L329.50,407.24 L330.00,406.33 L330.50,405.13 L331.00,403.95 L331.50,402.55 L332.00,402.20 L332.57,401.10 L333.13,400.35 L333.70,399.93 L334.35,398.88 L335.00,399.26 L335.50,398.37 L336.00,398.85 L336.50,398.78 L337.00,398.06 L337.50,398.52 L338.00,399.12 L338.50,398.96 L339.00,399.04 L339.50,398.62 L340.00,398.31 L340.50,398.48 L341.00,398.41 L341.50,398.45 L342.00,398.81 L342.50,398.89 L343.00,399.71 L343.50,400.17 L344.00,400.24 L344.50,400.74 L345.00,401.52 L345.50,402.61 L346.00,404.27 L346.50,404.85 L347.00,405.57 L347.50,406.92 L348.00,406.94 L348.50,407.16 L349.00,406.73 L349.50,407.02 L350.00,406.55 L350.50,406.68 L351.00,406.00 L351.50,406.42 L352.00,406.27 L352.50,406.04 L353.00,406.27 L353.50,406.41 L354.00,405.78 L354.50,406.04 L355.00,406.19 L355.50,406.12 L356.00,406.06 L356.50,406.53 L357.00,406.70 L357.50,407.45 L358.00,407.45 L358.50,407.95 L359.00,408.99 L359.50,409.97 L360.00,412.86 L360.00,413.00 Z" fill="#6b4312" />
<path d="M360.80,413.00 L360.80,413.00 L361.00,410.00 L363.00,409.80 L365.00,409.50 L367.60,409.80 L367.60,413.00 L367.60,413.00 Z" fill="#6b4312" />
<line x1="370.20" y1="413.00" x2="374.40" y2="413.00" stroke="#3a2a10" stroke-width="1.2" />
<line x1="383.70" y1="413.00" x2="388.00" y2="413.00" stroke="#3a2a10" stroke-width="1.2" />
<path d="M313.40,428.30 L313.40,428.30 L313.60,421.73 L314.20,421.53 L314.80,421.36 L315.40,422.02 L316.00,421.70 L316.50,421.04 L317.00,421.42 L317.50,421.51 L318.00,421.05 L318.50,420.76 L319.00,421.14 L319.50,421.17 L320.00,421.05 L320.50,421.26 L321.00,420.76 L321.50,421.41 L322.00,421.12 L322.50,421.23 L323.00,421.60 L323.50,421.50 L324.00,421.30 L324.50,421.42 L325.00,421.46 L325.50,421.50 L326.00,422.22 L326.50,422.90 L327.00,423.09 L327.50,423.62 L328.00,424.61 L328.50,424.98 L329.00,425.24 L329.50,424.83 L330.00,425.53 L330.50,425.60 L331.00,425.57 L331.50,425.27 L332.00,425.20 L332.50,425.75 L333.00,425.38 L333.50,425.46 L334.00,425.64 L334.50,425.52 L335.00,425.92 L335.50,425.47 L336.00,425.33 L336.50,425.78 L337.00,425.85 L337.50,426.03 L338.00,425.96 L338.50,426.24 L339.00,426.39 L339.50,426.15 L340.00,426.27 L340.50,426.11 L341.00,426.34 L341.50,427.01 L342.00,427.06 L342.50,428.00 L343.00,428.30 L343.50,428.30 L344.00,428.30 L344.50,428.30 L345.00,428.30 L345.50,428.30 L346.30,420.23 L346.87,420.05 L347.43,420.08 L348.00,418.97 L348.50,418.97 L349.00,419.32 L349.50,419.15 L350.00,419.61 L350.50,419.07 L351.00,419.77 L351.50,419.91 L352.00,419.98 L352.50,419.82 L353.00,419.83 L353.50,420.46 L354.00,420.68 L354.50,420.94 L355.30,428.30 L355.87,428.30 L356.43,428.30 L357.00,428.30 L357.50,426.02 L358.00,423.95 L358.50,423.63 L359.00,423.26 L359.50,422.82 L360.00,421.73 L360.50,421.74 L361.00,421.75 L361.50,421.75 L362.00,421.48 L362.50,421.26 L363.00,421.07 L363.50,421.16 L364.00,421.17 L364.50,421.53 L365.00,421.43 L365.50,421.34 L366.00,421.38 L366.50,421.32 L367.00,421.00 L367.50,421.10 L368.00,420.45 L368.50,420.97 L369.00,420.95 L369.50,420.74 L370.00,420.99 L370.50,421.33 L371.00,420.98 L371.50,421.22 L372.00,421.04 L372.50,421.17 L373.00,421.71 L373.50,421.12 L374.00,423.52 L374.50,426.18 L375.00,428.30 L375.00,428.30 Z" fill="#2c4b8b" />
<path d="M297.40,428.30 L297.40,428.30 L298.00,426.80 L303.00,426.90 L308.00,427.20 L313.40,427.00 L313.40,428.30 Z" fill="#2c4b8b" />
<line x1="297.40" y1="428.30" x2="390.00" y2="428.30" stroke="#2c4b8b" stroke-width="0.9" />
<line x1="297.40" y1="429.60" x2="390.00" y2="429.60" stroke="#aabbd8" stroke-width="0.9" />
<line x1="297.40" y1="435.30" x2="313.40" y2="435.30" stroke="#3a4670" stroke-width="1.1" />
<polyline points="305.10,432.00 308.60,435.30 305.10,438.60" fill="none" stroke="#263058" stroke-width="1.5"/>
<rect x="313.40" y="430.80" width="30.50" height="8.50" fill="#2c4b8b" />
<rect x="343.90" y="432.50" width="33.10" height="4.80" fill="#63ad45" />
<line x1="343.90" y1="399.50" x2="343.90" y2="443.60" stroke="#a8103a" stroke-width="1.3" stroke-dasharray="1.6,2.7"/>
<line x1="368.10" y1="399.50" x2="368.10" y2="443.60" stroke="#a8103a" stroke-width="1.3" stroke-dasharray="1.6,2.7"/>
<text x="343.90" y="449.31" font-size="4.2" fill="#6a1a28" text-anchor="middle" font-weight="normal" textLength="8.00" lengthAdjust="spacingAndGlyphs">Stop</text>
<text x="368.10" y="449.31" font-size="4.2" fill="#6a1a28" text-anchor="middle" font-weight="normal" textLength="8.00" lengthAdjust="spacingAndGlyphs">Stop</text>
<line x1="415.50" y1="389.30" x2="415.50" y2="441.90" stroke="#d8d0bf" stroke-width="0.9" />
<text x="413.70" y="401.92" font-size="3.4" fill="#9a9a9a" text-anchor="end" font-weight="normal">20</text>
<text x="413.70" y="413.42" font-size="3.4" fill="#9a9a9a" text-anchor="end" font-weight="normal">1</text>
<text x="413.70" y="415.92" font-size="3.4" fill="#9a9a9a" text-anchor="end" font-weight="normal">100</text>
<text x="413.70" y="428.72" font-size="3.4" fill="#9a9a9a" text-anchor="end" font-weight="normal">1</text>
<text x="433.30" y="393.92" font-size="5.6" fill="#222" text-anchor="start" font-weight="normal" textLength="12.40" lengthAdjust="spacingAndGlyphs">0.1kb</text>
<line x1="448.60" y1="391.90" x2="470.80" y2="391.90" stroke="#222" stroke-width="1.0" />
<line x1="448.60" y1="390.60" x2="448.60" y2="393.20" stroke="#222" stroke-width="1.0" />
<line x1="470.80" y1="390.60" x2="470.80" y2="393.20" stroke="#222" stroke-width="1.0" />
<path d="M436.70,413.00 L436.70,411.70 L437.20,411.95 L437.70,411.42 L438.20,411.56 L438.70,411.25 L439.20,411.20 L439.70,410.90 L440.20,410.65 L440.70,410.57 L441.20,410.62 L441.70,410.47 L442.20,409.90 L442.70,410.25 L443.20,410.76 L443.70,410.36 L444.20,411.08 L444.70,411.42 L445.20,411.24 L445.70,411.58 L446.20,411.42 L446.70,411.29 L447.20,411.30 L447.70,410.57 L448.20,410.27 L448.70,409.13 L449.20,408.25 L449.70,408.02 L450.20,407.47 L450.70,407.85 L451.20,407.95 L451.70,408.09 L452.20,408.71 L452.70,408.76 L453.20,408.75 L453.70,409.27 L454.20,408.68 L454.70,409.17 L455.20,410.07 L455.70,409.92 L456.20,410.60 L456.70,410.96 L457.20,410.32 L457.70,410.50 L458.20,410.10 L458.70,410.35 L459.20,409.62 L459.70,410.05 L460.20,409.86 L460.70,409.79 L461.20,410.15 L461.70,409.77 L462.20,410.11 L462.70,410.03 L463.20,409.68 L463.70,409.93 L464.20,409.68 L464.70,410.13 L465.20,410.24 L465.70,410.82 L466.20,410.82 L466.70,411.04 L467.20,411.63 L467.70,410.99 L468.20,410.86 L468.70,409.75 L469.20,408.82 L469.70,407.71 L470.20,407.62 L470.70,407.35 L471.20,407.60 L471.70,408.37 L472.20,409.55 L472.70,410.89 L473.20,410.93 L473.70,411.55 L474.20,411.21 L474.70,410.92 L475.20,411.34 L475.70,410.55 L476.20,410.64 L476.70,410.91 L477.20,410.95 L477.70,410.80 L478.20,410.59 L478.70,410.94 L479.20,411.46 L479.70,411.67 L480.20,411.69 L480.70,411.15 L481.20,411.46 L481.70,410.66 L482.20,409.85 L482.70,407.89 L483.20,406.01 L483.70,404.07 L484.20,401.97 L484.70,401.75 L485.20,402.06 L485.70,402.65 L486.20,402.85 L486.70,403.40 L487.20,402.93 L487.70,403.48 L488.20,404.36 L488.70,405.46 L489.20,406.40 L489.70,406.95 L490.20,406.07 L490.70,404.76 L491.20,404.62 L491.70,405.17 L492.20,405.50 L492.70,405.69 L493.20,404.57 L493.70,404.37 L494.20,403.98 L494.70,404.85 L495.20,406.16 L495.70,406.49 L496.20,406.62 L496.70,405.96 L497.20,406.42 L497.70,407.50 L498.20,408.12 L498.70,408.26 L499.20,407.89 L499.70,407.42 L500.20,407.73 L500.70,408.64 L501.20,410.14 L501.70,410.69 L502.20,411.48 L502.70,411.98 L503.20,411.71 L503.20,413.00 Z" fill="#6b4312" />
<path d="M436.70,427.50 L436.70,427.50 L436.80,420.70 L438.50,420.70 L439.50,423.00 L441.00,425.17 L442.00,423.29 L443.00,423.49 L444.00,424.54 L445.00,423.75 L446.00,423.75 L447.00,424.20 L448.00,423.72 L449.00,424.34 L450.00,424.26 L451.00,425.11 L452.00,425.18 L453.00,423.27 L454.00,424.32 L455.00,424.74 L456.00,424.94 L457.00,424.75 L458.00,424.47 L459.00,424.47 L460.00,423.93 L461.00,423.76 L462.00,424.79 L463.00,424.95 L464.00,425.08 L465.00,424.56 L466.00,423.81 L467.00,424.73 L468.00,424.68 L469.00,424.22 L470.00,424.47 L471.00,423.90 L472.00,424.30 L473.00,424.01 L474.00,423.32 L475.00,423.87 L476.00,423.85 L477.00,425.18 L478.00,424.16 L479.00,423.93 L480.00,423.69 L481.00,423.67 L482.00,423.90 L483.00,423.47 L484.00,423.21 L485.00,424.94 L486.00,424.11 L487.00,424.09 L488.00,424.34 L489.00,423.80 L490.00,423.54 L491.00,423.33 L492.00,423.80 L493.00,423.82 L494.00,424.65 L495.00,424.30 L496.00,425.07 L497.00,423.88 L498.00,425.04 L499.00,424.37 L500.00,423.36 L501.00,423.56 L502.00,424.36 L503.00,425.17 L503.60,424.50 L503.60,427.50 Z" fill="#2c4b8b" />
<line x1="415.50" y1="427.80" x2="436.70" y2="427.80" stroke="#9aa8c0" stroke-width="1.0" />
<line x1="436.70" y1="428.40" x2="470.20" y2="428.40" stroke="#aabbd8" stroke-width="0.9" />
<line x1="415.50" y1="433.60" x2="436.70" y2="433.60" stroke="#4a5a80" stroke-width="1.2" />
<polyline points="424.10,430.60 427.30,433.60 424.10,436.60" fill="none" stroke="#263058" stroke-width="1.5"/>
<rect x="436.70" y="429.30" width="33.50" height="8.20" fill="#2c4b8b" />
<rect x="470.20" y="431.20" width="33.40" height="4.70" fill="#63ad45" />
<text x="391.80" y="435.92" font-size="5.6" fill="#a8204e" text-anchor="start" font-weight="normal" textLength="19.50" lengthAdjust="spacingAndGlyphs">Rapgef1</text>
<line x1="470.20" y1="402.00" x2="470.20" y2="441.50" stroke="#a8103a" stroke-width="1.3" stroke-dasharray="1.6,2.7"/>
<line x1="491.20" y1="402.00" x2="491.20" y2="441.50" stroke="#a8103a" stroke-width="1.3" stroke-dasharray="1.6,2.7"/>
<line x1="499.70" y1="402.00" x2="499.70" y2="441.50" stroke="#a8103a" stroke-width="1.3" stroke-dasharray="1.6,2.7"/>
<text x="470.20" y="447.11" font-size="4.2" fill="#6a1a28" text-anchor="middle" font-weight="normal" textLength="8.00" lengthAdjust="spacingAndGlyphs">Stop</text>
<text x="491.20" y="447.11" font-size="4.2" fill="#6a1a28" text-anchor="middle" font-weight="normal" textLength="8.00" lengthAdjust="spacingAndGlyphs">Stop</text>
<text x="499.70" y="447.11" font-size="4.2" fill="#6a1a28" text-anchor="middle" font-weight="normal" textLength="8.00" lengthAdjust="spacingAndGlyphs">Stop</text>
<rect x="0" y="0" width="520" height="1.1" fill="#000"/><rect x="0" y="0" width="1.1" height="472" fill="#000"/><rect x="518.3" y="0" width="1.7" height="472" fill="#000"/><rect x="0" y="470.3" width="520" height="1.7" fill="#000"/>
</svg>
</body></html>
